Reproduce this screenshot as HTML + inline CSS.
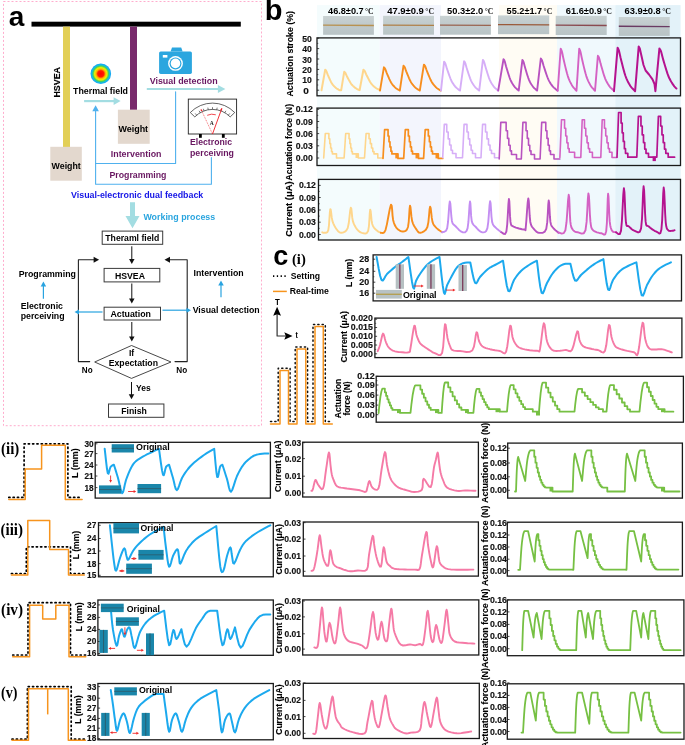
<!DOCTYPE html>
<html><head><meta charset="utf-8"><title>Figure</title>
<style>
html,body{margin:0;padding:0;background:#fff;}
body{width:685px;height:745px;overflow:hidden;font-family:"Liberation Sans",sans-serif;}
svg{display:block;position:absolute;left:0;top:0;will-change:transform;}
</style></head><body>
<svg width="685" height="745" viewBox="0 0 685 745">
<defs><radialGradient id="heat" cx="50%" cy="50%" r="50%"><stop offset="0" stop-color="#ff0000"/><stop offset="0.3" stop-color="#ff1a00"/><stop offset="0.45" stop-color="#ffb000"/><stop offset="0.6" stop-color="#f0f000"/><stop offset="0.75" stop-color="#40d060"/><stop offset="0.88" stop-color="#10b8f0"/><stop offset="1" stop-color="#1aa0f0"/></radialGradient></defs>
<rect x="3.50" y="1.50" width="258.00" height="424.20" fill="none" stroke="#ffaccd" stroke-width="1" stroke-dasharray="2,2"/>
<text x="8.80" y="26.40" font-size="28" font-weight="bold" fill="#000" text-anchor="start" font-family="Liberation Sans">a</text>
<rect x="31.50" y="21.70" width="209.30" height="4.90" fill="#000" stroke="none" stroke-width="1"/>
<rect x="63.00" y="26.60" width="7.00" height="120.40" fill="#e2cf57" stroke="none" stroke-width="1"/>
<rect x="130.00" y="26.60" width="7.00" height="83.30" fill="#792a6c" stroke="none" stroke-width="1"/>
<rect x="50.30" y="146.80" width="31.50" height="33.90" fill="#e3d8ce" stroke="none" stroke-width="1"/>
<text x="51.60" y="168.80" font-size="9" font-weight="bold" fill="#000" text-anchor="start" font-family="Liberation Sans" textLength="29.20" lengthAdjust="spacingAndGlyphs">Weight</text>
<rect x="117.90" y="109.70" width="31.80" height="34.10" fill="#e3d8ce" stroke="none" stroke-width="1"/>
<text x="118.50" y="132.40" font-size="9" font-weight="bold" fill="#000" text-anchor="start" font-family="Liberation Sans" textLength="29.60" lengthAdjust="spacingAndGlyphs">Weight</text>
<text transform="translate(59.60,82.30) rotate(-90)" x="0" y="0" font-size="9" font-weight="bold" fill="#000" stroke="#000" stroke-width="0.12" text-anchor="middle" font-family="Liberation Sans" textLength="30.60" lengthAdjust="spacingAndGlyphs">HSVEA</text>
<circle cx="100.8" cy="73.8" r="10.3" fill="url(#heat)"/>
<text x="73.00" y="93.70" font-size="9" font-weight="bold" fill="#000" text-anchor="start" font-family="Liberation Sans" textLength="55.00" lengthAdjust="spacingAndGlyphs">Thermal field</text>
<line x1="84.10" y1="101.10" x2="115.00" y2="101.10" stroke="#a3dde2" stroke-width="2.2"/>
<polygon points="120.60,101.10 113.60,104.95 113.60,97.25" fill="#a3dde2"/>
<path d="M170.6,51.6 L172,47.4 L181.2,47.4 L182.6,51.6 Z" fill="#2ba6df"/>
<rect x="159.1" y="51.4" width="32.8" height="22.5" rx="1.6" fill="#2ba6df"/>
<rect x="162.8" y="55" width="4.6" height="2.6" fill="#fff"/>
<circle cx="175.5" cy="63.4" r="7.4" fill="#fff"/>
<circle cx="175.5" cy="63.4" r="6.0" fill="#2ba6df"/>
<circle cx="175.5" cy="63.4" r="4.8" fill="#fff"/>
<text x="149.70" y="84.40" font-size="9" font-weight="bold" fill="#681660" text-anchor="start" font-family="Liberation Sans" textLength="68.00" lengthAdjust="spacingAndGlyphs">Visual detection</text>
<line x1="146.80" y1="89.00" x2="219.40" y2="89.00" stroke="#a3dde2" stroke-width="2.2"/>
<polygon points="225.40,89.00 217.90,93.12 217.90,84.88" fill="#a3dde2"/>
<polyline points="175.60,91.70 175.60,163.50 95.60,163.50" fill="none" stroke="#4fb1ee" stroke-width="1.1" stroke-linejoin="round" stroke-linecap="round"/>
<polyline points="211.40,157.60 211.40,184.20 95.60,184.20 95.60,110.00" fill="none" stroke="#4fb1ee" stroke-width="1.1" stroke-linejoin="round" stroke-linecap="round"/>
<polygon points="95.60,105.20 98.90,111.20 92.30,111.20" fill="#4fb1ee"/>
<rect x="188.30" y="99.10" width="48.30" height="34.90" fill="#fff" stroke="#222" stroke-width="0.9"/>
<path d="M190.27,112.54 A30.9,30.9 0 0 1 234.73,112.54 L230.20,116.91 A24.6,24.6 0 0 0 194.80,116.91 Z" fill="#fff" stroke="#222" stroke-width="0.7"/>
<line x1="196.69" y1="115.16" x2="195.27" y2="113.47" stroke="#222" stroke-width="0.6"/>
<line x1="200.20" y1="112.70" x2="199.10" y2="110.79" stroke="#222" stroke-width="0.6"/>
<line x1="204.09" y1="110.88" x2="203.33" y2="108.82" stroke="#222" stroke-width="0.6"/>
<line x1="208.23" y1="109.77" x2="207.85" y2="107.61" stroke="#222" stroke-width="0.6"/>
<line x1="212.50" y1="109.40" x2="212.50" y2="107.20" stroke="#222" stroke-width="0.6"/>
<line x1="216.77" y1="109.77" x2="217.15" y2="107.61" stroke="#222" stroke-width="0.6"/>
<line x1="220.91" y1="110.88" x2="221.67" y2="108.82" stroke="#222" stroke-width="0.6"/>
<line x1="224.80" y1="112.70" x2="225.90" y2="110.79" stroke="#222" stroke-width="0.6"/>
<line x1="228.31" y1="115.16" x2="229.73" y2="113.47" stroke="#222" stroke-width="0.6"/>
<line x1="212.50" y1="134.00" x2="200.88" y2="109.08" stroke="#ee1c24" stroke-width="0.6" stroke-dasharray="1,0.8"/>
<line x1="212.50" y1="134.00" x2="221.91" y2="108.16" stroke="#ee1c24" stroke-width="0.9"/>
<polygon points="200.88,109.08 202.72,110.42 200.73,111.35" fill="#ee1c24"/>
<polygon points="221.91,108.16 222.26,110.41 220.19,109.66" fill="#ee1c24"/>
<path d="M207.2,115.3 Q211.5,113.3 215.8,114.8" fill="none" stroke="#ee1c24" stroke-width="0.8"/>
<text x="211.80" y="124.60" font-size="5.5" font-weight="bold" fill="#222" text-anchor="middle" font-family="Liberation Serif">A</text>
<rect x="199.00" y="134.00" width="2.80" height="3.80" fill="#000" stroke="none" stroke-width="1"/>
<rect x="221.90" y="134.00" width="2.80" height="3.80" fill="#000" stroke="none" stroke-width="1"/>
<text x="190.00" y="145.20" font-size="9" font-weight="bold" fill="#681660" text-anchor="start" font-family="Liberation Sans" textLength="42.00" lengthAdjust="spacingAndGlyphs">Electronic</text>
<text x="190.00" y="155.60" font-size="9" font-weight="bold" fill="#681660" text-anchor="start" font-family="Liberation Sans" textLength="44.00" lengthAdjust="spacingAndGlyphs">perceiving</text>
<text x="110.80" y="157.40" font-size="9" font-weight="bold" fill="#681660" text-anchor="start" font-family="Liberation Sans" textLength="50.70" lengthAdjust="spacingAndGlyphs">Intervention</text>
<text x="109.40" y="178.40" font-size="9" font-weight="bold" fill="#681660" text-anchor="start" font-family="Liberation Sans" textLength="57.10" lengthAdjust="spacingAndGlyphs">Programming</text>
<text x="71.00" y="198.40" font-size="9" font-weight="bold" fill="#1515e6" text-anchor="start" font-family="Liberation Sans" textLength="132.30" lengthAdjust="spacingAndGlyphs">Visual-electronic dual feedback</text>
<polygon points="130,202.3 135,202.3 135,216 139.5,216 132.5,228.3 125.5,216 130,216" fill="#a3dde2"/>
<text x="143.40" y="219.90" font-size="9" font-weight="bold" fill="#2aa5df" text-anchor="start" font-family="Liberation Sans" textLength="71.80" lengthAdjust="spacingAndGlyphs">Working process</text>
<rect x="102.20" y="231.10" width="60.50" height="13.20" fill="#fff" stroke="#3a3a3a" stroke-width="1"/>
<text x="105.30" y="240.50" font-size="8.6" font-weight="bold" fill="#000" text-anchor="start" font-family="Liberation Sans" textLength="53.90" lengthAdjust="spacingAndGlyphs">Theraml field</text>
<rect x="104.10" y="268.40" width="55.70" height="13.50" fill="#fff" stroke="#3a3a3a" stroke-width="1"/>
<text x="114.90" y="279.00" font-size="8.6" font-weight="bold" fill="#000" text-anchor="start" font-family="Liberation Sans" textLength="30.10" lengthAdjust="spacingAndGlyphs">HSVEA</text>
<rect x="104.10" y="307.20" width="56.40" height="12.80" fill="#fff" stroke="#3a3a3a" stroke-width="1"/>
<text x="110.40" y="316.60" font-size="8.6" font-weight="bold" fill="#000" text-anchor="start" font-family="Liberation Sans" textLength="40.60" lengthAdjust="spacingAndGlyphs">Actuation</text>
<rect x="108.50" y="404.00" width="55.40" height="13.30" fill="#fff" stroke="#3a3a3a" stroke-width="1"/>
<text x="121.30" y="413.80" font-size="8.6" font-weight="bold" fill="#000" text-anchor="start" font-family="Liberation Sans" textLength="25.60" lengthAdjust="spacingAndGlyphs">Finish</text>
<line x1="131.80" y1="246.30" x2="131.80" y2="260.10" stroke="#111" stroke-width="1"/>
<polygon points="131.80,264.10 129.05,259.10 134.55,259.10" fill="#111"/>
<line x1="131.80" y1="283.50" x2="131.80" y2="299.50" stroke="#111" stroke-width="1"/>
<polygon points="131.80,303.50 129.05,298.50 134.55,298.50" fill="#111"/>
<line x1="131.80" y1="322.00" x2="131.80" y2="337.50" stroke="#111" stroke-width="1"/>
<polygon points="131.80,341.50 129.05,336.50 134.55,336.50" fill="#111"/>
<line x1="131.50" y1="382.00" x2="131.50" y2="395.30" stroke="#111" stroke-width="1"/>
<polygon points="131.50,399.30 128.75,394.30 134.25,394.30" fill="#111"/>
<polygon points="131.5,345.5 171,362 131.5,378.4 94.7,362" fill="#fff" stroke="#333" stroke-width="0.9"/>
<text x="131.50" y="356.40" font-size="8.6" font-weight="bold" fill="#000" text-anchor="middle" font-family="Liberation Sans">If</text>
<text x="108.70" y="366.20" font-size="8.6" font-weight="bold" fill="#000" text-anchor="start" font-family="Liberation Sans" textLength="49.30" lengthAdjust="spacingAndGlyphs">Expectation</text>
<polyline points="89.70,361.60 78.40,361.60 78.40,259.80 94.00,259.80" fill="none" stroke="#222" stroke-width="1.1" stroke-linejoin="round" stroke-linecap="round"/>
<polygon points="99.10,259.80 93.60,262.82 93.60,256.78" fill="#111"/>
<polyline points="175.00,361.60 187.20,361.60 187.20,259.80 169.50,259.80" fill="none" stroke="#222" stroke-width="1.1" stroke-linejoin="round" stroke-linecap="round"/>
<polygon points="164.50,259.80 170.00,256.78 170.00,262.82" fill="#111"/>
<text x="81.80" y="372.60" font-size="8.6" font-weight="bold" fill="#000" text-anchor="start" font-family="Liberation Sans" textLength="10.80" lengthAdjust="spacingAndGlyphs">No</text>
<text x="176.30" y="372.60" font-size="8.6" font-weight="bold" fill="#000" text-anchor="start" font-family="Liberation Sans" textLength="10.90" lengthAdjust="spacingAndGlyphs">No</text>
<text x="136.00" y="390.70" font-size="8.6" font-weight="bold" fill="#000" text-anchor="start" font-family="Liberation Sans" textLength="14.60" lengthAdjust="spacingAndGlyphs">Yes</text>
<text x="18.70" y="277.20" font-size="8.8" font-weight="bold" fill="#000" text-anchor="start" font-family="Liberation Sans" textLength="57.20" lengthAdjust="spacingAndGlyphs">Programming</text>
<text x="193.50" y="275.70" font-size="8.8" font-weight="bold" fill="#000" text-anchor="start" font-family="Liberation Sans" textLength="50.20" lengthAdjust="spacingAndGlyphs">Intervention</text>
<text x="20.70" y="308.60" font-size="8.8" font-weight="bold" fill="#000" text-anchor="start" font-family="Liberation Sans" textLength="42.30" lengthAdjust="spacingAndGlyphs">Electronic</text>
<text x="20.70" y="318.80" font-size="8.8" font-weight="bold" fill="#000" text-anchor="start" font-family="Liberation Sans" textLength="43.90" lengthAdjust="spacingAndGlyphs">perceiving</text>
<text x="192.70" y="312.50" font-size="8.8" font-weight="bold" fill="#000" text-anchor="start" font-family="Liberation Sans" textLength="67.00" lengthAdjust="spacingAndGlyphs">Visual detection</text>
<line x1="102.50" y1="312.00" x2="78.10" y2="312.00" stroke="#29a3e0" stroke-width="1.2"/>
<polygon points="74.50,312.00 79.00,309.52 79.00,314.48" fill="#29a3e0"/>
<line x1="162.50" y1="310.20" x2="187.40" y2="310.20" stroke="#29a3e0" stroke-width="1.2"/>
<polygon points="191.00,310.20 186.50,312.68 186.50,307.72" fill="#29a3e0"/>
<line x1="43.40" y1="298.70" x2="43.40" y2="285.60" stroke="#29a3e0" stroke-width="1.2"/>
<polygon points="43.40,281.60 46.15,286.60 40.65,286.60" fill="#29a3e0"/>
<line x1="221.00" y1="297.30" x2="221.00" y2="284.50" stroke="#29a3e0" stroke-width="1.2"/>
<polygon points="221.00,280.50 223.75,285.50 218.25,285.50" fill="#29a3e0"/>
<text x="264.80" y="20.20" font-size="29" font-weight="bold" fill="#000" text-anchor="start" font-family="Liberation Sans">b</text>
<rect x="317.00" y="5.10" width="62.60" height="235.00" fill="#f4fcfd" stroke="none" stroke-width="1"/>
<rect x="379.60" y="5.10" width="61.40" height="235.00" fill="#f3f5fd" stroke="none" stroke-width="1"/>
<rect x="441.00" y="5.10" width="58.00" height="235.00" fill="#ffffff" stroke="none" stroke-width="1"/>
<rect x="499.00" y="5.10" width="58.00" height="235.00" fill="#fffcf4" stroke="none" stroke-width="1"/>
<rect x="557.00" y="5.10" width="58.30" height="235.00" fill="#f0f9fd" stroke="none" stroke-width="1"/>
<rect x="615.30" y="5.10" width="65.30" height="235.00" fill="#e3f2f9" stroke="none" stroke-width="1"/>
<defs><linearGradient id="ph" x1="0" y1="0" x2="0" y2="1"><stop offset="0" stop-color="#c9d2d3"/><stop offset="0.5" stop-color="#bfc9cb"/><stop offset="1" stop-color="#b9c4c6"/></linearGradient></defs>
<rect x="323.10" y="16.00" width="50.80" height="18.80" fill="url(#ph)" stroke="none" stroke-width="1"/>
<line x1="323.10" y1="25.20" x2="373.90" y2="25.50" stroke="#b89250" stroke-width="1.3"/>
<rect x="383.10" y="15.80" width="50.90" height="18.90" fill="url(#ph)" stroke="none" stroke-width="1"/>
<line x1="383.10" y1="25.05" x2="434.00" y2="25.35" stroke="#b08048" stroke-width="1.3"/>
<rect x="440.00" y="15.80" width="50.90" height="18.90" fill="url(#ph)" stroke="none" stroke-width="1"/>
<line x1="440.00" y1="25.05" x2="490.90" y2="25.35" stroke="#9a6450" stroke-width="1.3"/>
<rect x="498.00" y="15.40" width="51.20" height="18.80" fill="url(#ph)" stroke="none" stroke-width="1"/>
<line x1="498.00" y1="24.60" x2="549.20" y2="24.90" stroke="#9a5a3a" stroke-width="1.3"/>
<rect x="555.70" y="15.80" width="51.00" height="19.20" fill="url(#ph)" stroke="none" stroke-width="1"/>
<line x1="555.70" y1="25.20" x2="606.70" y2="25.50" stroke="#8a4a50" stroke-width="1.3"/>
<rect x="618.80" y="17.00" width="50.90" height="18.90" fill="url(#ph)" stroke="none" stroke-width="1"/>
<line x1="618.80" y1="26.25" x2="669.70" y2="26.55" stroke="#6a3a62" stroke-width="1.3"/>
<text x="328.10" y="13.50" font-size="8.3" font-weight="bold" fill="#000" text-anchor="start" font-family="Liberation Sans" textLength="35.50" lengthAdjust="spacingAndGlyphs">46.8±0.7</text>
<text x="365.00" y="13.50" font-size="8.8" font-weight="bold" fill="#111" text-anchor="start" font-family="Liberation Serif" textLength="8.60" lengthAdjust="spacingAndGlyphs">°C</text>
<text x="387.20" y="13.50" font-size="8.3" font-weight="bold" fill="#000" text-anchor="start" font-family="Liberation Sans" textLength="36.70" lengthAdjust="spacingAndGlyphs">47.9±0.9</text>
<text x="425.30" y="13.50" font-size="8.8" font-weight="bold" fill="#111" text-anchor="start" font-family="Liberation Serif" textLength="8.70" lengthAdjust="spacingAndGlyphs">°C</text>
<text x="447.00" y="13.50" font-size="8.3" font-weight="bold" fill="#000" text-anchor="start" font-family="Liberation Sans" textLength="36.30" lengthAdjust="spacingAndGlyphs">50.3±2.0</text>
<text x="484.70" y="13.50" font-size="8.8" font-weight="bold" fill="#111" text-anchor="start" font-family="Liberation Serif" textLength="8.60" lengthAdjust="spacingAndGlyphs">°C</text>
<text x="506.60" y="13.50" font-size="8.3" font-weight="bold" fill="#000" text-anchor="start" font-family="Liberation Sans" textLength="35.60" lengthAdjust="spacingAndGlyphs">55.2±1.7</text>
<text x="543.60" y="13.50" font-size="8.8" font-weight="bold" fill="#111" text-anchor="start" font-family="Liberation Serif" textLength="8.70" lengthAdjust="spacingAndGlyphs">°C</text>
<text x="565.80" y="13.50" font-size="8.3" font-weight="bold" fill="#000" text-anchor="start" font-family="Liberation Sans" textLength="36.00" lengthAdjust="spacingAndGlyphs">61.6±0.9</text>
<text x="603.20" y="13.50" font-size="8.8" font-weight="bold" fill="#111" text-anchor="start" font-family="Liberation Serif" textLength="8.80" lengthAdjust="spacingAndGlyphs">°C</text>
<text x="624.50" y="13.50" font-size="8.3" font-weight="bold" fill="#000" text-anchor="start" font-family="Liberation Sans" textLength="36.30" lengthAdjust="spacingAndGlyphs">63.9±0.8</text>
<text x="662.20" y="13.50" font-size="8.8" font-weight="bold" fill="#111" text-anchor="start" font-family="Liberation Serif" textLength="8.80" lengthAdjust="spacingAndGlyphs">°C</text>
<rect x="317.00" y="37.90" width="363.50" height="57.90" fill="none" stroke="#1a1a1a" stroke-width="1.3"/>
<line x1="317.00" y1="38.20" x2="319.20" y2="38.20" stroke="#1a1a1a" stroke-width="0.8"/>
<line x1="317.00" y1="48.60" x2="319.20" y2="48.60" stroke="#1a1a1a" stroke-width="0.8"/>
<line x1="317.00" y1="59.00" x2="319.20" y2="59.00" stroke="#1a1a1a" stroke-width="0.8"/>
<line x1="317.00" y1="69.40" x2="319.20" y2="69.40" stroke="#1a1a1a" stroke-width="0.8"/>
<line x1="317.00" y1="79.80" x2="319.20" y2="79.80" stroke="#1a1a1a" stroke-width="0.8"/>
<line x1="317.00" y1="90.20" x2="319.20" y2="90.20" stroke="#1a1a1a" stroke-width="0.8"/>
<line x1="317.00" y1="43.40" x2="318.30" y2="43.40" stroke="#1a1a1a" stroke-width="0.6"/>
<line x1="317.00" y1="53.80" x2="318.30" y2="53.80" stroke="#1a1a1a" stroke-width="0.6"/>
<line x1="317.00" y1="64.20" x2="318.30" y2="64.20" stroke="#1a1a1a" stroke-width="0.6"/>
<line x1="317.00" y1="74.60" x2="318.30" y2="74.60" stroke="#1a1a1a" stroke-width="0.6"/>
<line x1="317.00" y1="85.00" x2="318.30" y2="85.00" stroke="#1a1a1a" stroke-width="0.6"/>
<text x="302.30" y="41.75" font-size="9" font-weight="bold" fill="#111" stroke="#111" stroke-width="0.15" text-anchor="start" font-family="Liberation Sans" textLength="9.60" lengthAdjust="spacingAndGlyphs">50</text>
<text x="302.30" y="52.00" font-size="9" font-weight="bold" fill="#111" stroke="#111" stroke-width="0.15" text-anchor="start" font-family="Liberation Sans" textLength="9.60" lengthAdjust="spacingAndGlyphs">40</text>
<text x="302.30" y="62.60" font-size="9" font-weight="bold" fill="#111" stroke="#111" stroke-width="0.15" text-anchor="start" font-family="Liberation Sans" textLength="9.60" lengthAdjust="spacingAndGlyphs">30</text>
<text x="302.30" y="72.90" font-size="9" font-weight="bold" fill="#111" stroke="#111" stroke-width="0.15" text-anchor="start" font-family="Liberation Sans" textLength="9.60" lengthAdjust="spacingAndGlyphs">20</text>
<text x="302.30" y="83.30" font-size="9" font-weight="bold" fill="#111" stroke="#111" stroke-width="0.15" text-anchor="start" font-family="Liberation Sans" textLength="9.60" lengthAdjust="spacingAndGlyphs">10</text>
<text x="303.20" y="93.65" font-size="9" font-weight="bold" fill="#111" stroke="#111" stroke-width="0.15" text-anchor="start" font-family="Liberation Sans" textLength="5.60" lengthAdjust="spacingAndGlyphs">0</text>
<text transform="translate(293.00,53.80) rotate(-90)" x="0" y="0" font-size="9" font-weight="bold" fill="#000" stroke="#000" stroke-width="0.12" text-anchor="middle" font-family="Liberation Sans" textLength="85.40" lengthAdjust="spacingAndGlyphs">Actuation stroke (%)</text>
<rect x="317.00" y="108.10" width="363.50" height="57.40" fill="none" stroke="#1a1a1a" stroke-width="1.3"/>
<line x1="317.00" y1="109.30" x2="319.20" y2="109.30" stroke="#1a1a1a" stroke-width="0.8"/>
<line x1="317.00" y1="121.50" x2="319.20" y2="121.50" stroke="#1a1a1a" stroke-width="0.8"/>
<line x1="317.00" y1="133.60" x2="319.20" y2="133.60" stroke="#1a1a1a" stroke-width="0.8"/>
<line x1="317.00" y1="145.80" x2="319.20" y2="145.80" stroke="#1a1a1a" stroke-width="0.8"/>
<line x1="317.00" y1="158.00" x2="319.20" y2="158.00" stroke="#1a1a1a" stroke-width="0.8"/>
<line x1="317.00" y1="115.40" x2="318.30" y2="115.40" stroke="#1a1a1a" stroke-width="0.6"/>
<line x1="317.00" y1="127.55" x2="318.30" y2="127.55" stroke="#1a1a1a" stroke-width="0.6"/>
<line x1="317.00" y1="139.70" x2="318.30" y2="139.70" stroke="#1a1a1a" stroke-width="0.6"/>
<line x1="317.00" y1="151.90" x2="318.30" y2="151.90" stroke="#1a1a1a" stroke-width="0.6"/>
<text x="295.80" y="112.40" font-size="8.6" font-weight="bold" fill="#111" stroke="#111" stroke-width="0.15" text-anchor="start" font-family="Liberation Sans" textLength="17.00" lengthAdjust="spacingAndGlyphs">0.12</text>
<text x="295.80" y="124.60" font-size="8.6" font-weight="bold" fill="#111" stroke="#111" stroke-width="0.15" text-anchor="start" font-family="Liberation Sans" textLength="17.00" lengthAdjust="spacingAndGlyphs">0.09</text>
<text x="295.80" y="136.80" font-size="8.6" font-weight="bold" fill="#111" stroke="#111" stroke-width="0.15" text-anchor="start" font-family="Liberation Sans" textLength="17.00" lengthAdjust="spacingAndGlyphs">0.06</text>
<text x="295.80" y="149.10" font-size="8.6" font-weight="bold" fill="#111" stroke="#111" stroke-width="0.15" text-anchor="start" font-family="Liberation Sans" textLength="17.00" lengthAdjust="spacingAndGlyphs">0.03</text>
<text x="295.80" y="161.30" font-size="8.6" font-weight="bold" fill="#111" stroke="#111" stroke-width="0.15" text-anchor="start" font-family="Liberation Sans" textLength="17.00" lengthAdjust="spacingAndGlyphs">0.00</text>
<text transform="translate(291.90,142.20) rotate(-90)" x="0" y="0" font-size="9" font-weight="bold" fill="#000" stroke="#000" stroke-width="0.12" text-anchor="middle" font-family="Liberation Sans" textLength="76.40" lengthAdjust="spacingAndGlyphs">Acutation force (N)</text>
<rect x="318.50" y="179.40" width="362.00" height="60.60" fill="none" stroke="#1a1a1a" stroke-width="1.3"/>
<line x1="318.50" y1="185.40" x2="320.70" y2="185.40" stroke="#1a1a1a" stroke-width="0.8"/>
<line x1="318.50" y1="197.50" x2="320.70" y2="197.50" stroke="#1a1a1a" stroke-width="0.8"/>
<line x1="318.50" y1="210.00" x2="320.70" y2="210.00" stroke="#1a1a1a" stroke-width="0.8"/>
<line x1="318.50" y1="222.20" x2="320.70" y2="222.20" stroke="#1a1a1a" stroke-width="0.8"/>
<line x1="318.50" y1="234.50" x2="320.70" y2="234.50" stroke="#1a1a1a" stroke-width="0.8"/>
<line x1="318.50" y1="191.45" x2="319.80" y2="191.45" stroke="#1a1a1a" stroke-width="0.6"/>
<line x1="318.50" y1="203.75" x2="319.80" y2="203.75" stroke="#1a1a1a" stroke-width="0.6"/>
<line x1="318.50" y1="216.10" x2="319.80" y2="216.10" stroke="#1a1a1a" stroke-width="0.6"/>
<line x1="318.50" y1="228.35" x2="319.80" y2="228.35" stroke="#1a1a1a" stroke-width="0.6"/>
<text x="299.00" y="188.40" font-size="8.6" font-weight="bold" fill="#111" stroke="#111" stroke-width="0.15" text-anchor="start" font-family="Liberation Sans" textLength="16.90" lengthAdjust="spacingAndGlyphs">0.12</text>
<text x="299.00" y="200.50" font-size="8.6" font-weight="bold" fill="#111" stroke="#111" stroke-width="0.15" text-anchor="start" font-family="Liberation Sans" textLength="16.90" lengthAdjust="spacingAndGlyphs">0.09</text>
<text x="299.00" y="213.00" font-size="8.6" font-weight="bold" fill="#111" stroke="#111" stroke-width="0.15" text-anchor="start" font-family="Liberation Sans" textLength="16.90" lengthAdjust="spacingAndGlyphs">0.06</text>
<text x="299.00" y="225.20" font-size="8.6" font-weight="bold" fill="#111" stroke="#111" stroke-width="0.15" text-anchor="start" font-family="Liberation Sans" textLength="16.90" lengthAdjust="spacingAndGlyphs">0.03</text>
<text x="299.00" y="237.50" font-size="8.6" font-weight="bold" fill="#111" stroke="#111" stroke-width="0.15" text-anchor="start" font-family="Liberation Sans" textLength="16.90" lengthAdjust="spacingAndGlyphs">0.00</text>
<text transform="translate(291.90,209.05) rotate(-90)" x="0" y="0" font-size="9" font-weight="bold" fill="#000" stroke="#000" stroke-width="0.12" text-anchor="middle" font-family="Liberation Sans" textLength="55.30" lengthAdjust="spacingAndGlyphs">Current (μA)</text>
<polyline points="321.50,90.20 325.20,69.70 325.35,69.85 325.55,70.03 325.79,70.29 326.06,70.64 326.34,71.14 326.62,71.76 326.90,72.49 327.21,73.34 327.59,74.32 328.06,75.44 328.66,76.80 329.36,78.40 330.12,80.07 330.89,81.67 331.64,83.03 332.37,84.14 333.11,85.10 333.85,85.94 334.56,86.68 335.21,87.33 335.80,87.87 336.35,88.28 336.86,88.61 337.34,88.90 337.78,89.18 338.21,89.45 338.61,89.69 338.98,89.90 339.28,90.07 339.50,90.20 341.20,90.20 344.20,71.80 344.36,71.93 344.57,72.10 344.84,72.33 345.13,72.64 345.43,73.09 345.73,73.65 346.03,74.31 346.37,75.07 346.77,75.95 347.28,76.95 347.92,78.17 348.68,79.60 349.49,81.11 350.33,82.54 351.13,83.76 351.92,84.76 352.72,85.62 353.52,86.38 354.28,87.04 354.98,87.62 355.62,88.11 356.21,88.48 356.76,88.78 357.27,89.03 357.75,89.28 358.21,89.53 358.65,89.75 359.04,89.93 359.36,90.09 359.60,90.20 359.60,90.20 363.40,69.70 363.57,69.85 363.80,70.03 364.09,70.29 364.40,70.64 364.73,71.14 365.05,71.76 365.37,72.49 365.74,73.34 366.17,74.32 366.72,75.44 367.41,76.80 368.22,78.40 369.11,80.07 370.01,81.67 370.87,83.03 371.72,84.14 372.59,85.10 373.44,85.94 374.26,86.68 375.02,87.33 375.71,87.87 376.35,88.28 376.94,88.61 377.49,88.90 378.01,89.18 378.50,89.45 378.97,89.69 379.39,89.90 379.75,90.07 380.00,90.20" fill="none" stroke="#fed68c" stroke-width="2.0" stroke-linejoin="round" stroke-linecap="round"/>
<polyline points="380.00,90.60 383.90,67.30 384.06,67.47 384.29,67.68 384.56,67.97 384.86,68.37 385.17,68.93 385.48,69.64 385.79,70.47 386.14,71.44 386.56,72.55 387.08,73.82 387.74,75.37 388.52,77.18 389.37,79.09 390.23,80.90 391.06,82.44 391.87,83.71 392.70,84.80 393.52,85.76 394.31,86.60 395.03,87.34 395.69,87.95 396.30,88.42 396.87,88.80 397.40,89.12 397.89,89.44 398.37,89.75 398.82,90.02 399.22,90.26 399.56,90.46 399.80,90.60 399.80,90.60 403.50,65.70 403.67,65.88 403.90,66.10 404.17,66.41 404.48,66.84 404.80,67.44 405.12,68.20 405.44,69.09 405.79,70.13 406.22,71.32 406.76,72.67 407.44,74.32 408.24,76.26 409.10,78.30 409.99,80.23 410.83,81.88 411.67,83.23 412.52,84.41 413.36,85.43 414.17,86.32 414.91,87.11 415.59,87.77 416.21,88.27 416.80,88.67 417.34,89.02 417.84,89.36 418.33,89.69 418.79,89.98 419.21,90.24 419.55,90.45 419.80,90.60 419.80,90.60 423.90,64.60 424.07,64.79 424.31,65.02 424.59,65.34 424.91,65.79 425.24,66.42 425.57,67.21 425.90,68.14 426.26,69.22 426.71,70.46 427.26,71.88 427.96,73.60 428.78,75.63 429.68,77.75 430.59,79.78 431.46,81.50 432.32,82.91 433.20,84.13 434.06,85.20 434.90,86.13 435.66,86.96 436.36,87.64 437.00,88.17 437.60,88.59 438.16,88.95 438.68,89.30 439.18,89.65 439.66,89.96 440.09,90.22 440.44,90.44 440.70,90.60" fill="none" stroke="#f78e1e" stroke-width="1.9" stroke-linejoin="round" stroke-linecap="round"/>
<polyline points="441.00,90.60 444.10,61.60 444.26,61.81 444.49,62.07 444.76,62.43 445.06,62.93 445.37,63.63 445.68,64.51 445.99,65.55 446.34,66.76 446.76,68.14 447.28,69.72 447.94,71.64 448.72,73.90 449.57,76.27 450.43,78.53 451.26,80.45 452.07,82.02 452.90,83.39 453.72,84.58 454.51,85.62 455.23,86.54 455.89,87.30 456.50,87.89 457.07,88.36 457.60,88.76 458.09,89.15 458.57,89.54 459.02,89.88 459.42,90.18 459.76,90.42 460.00,90.60 460.00,90.60 464.10,61.20 464.25,61.41 464.47,61.68 464.72,62.04 465.01,62.55 465.31,63.26 465.60,64.15 465.90,65.21 466.22,66.43 466.62,67.83 467.12,69.43 467.75,71.38 468.49,73.67 469.29,76.07 470.11,78.36 470.90,80.31 471.67,81.90 472.46,83.29 473.24,84.49 473.98,85.55 474.67,86.48 475.30,87.26 475.88,87.85 476.42,88.33 476.92,88.73 477.39,89.13 477.84,89.52 478.27,89.87 478.65,90.17 478.97,90.42 479.20,90.60 479.20,90.60 482.90,59.90 483.06,60.12 483.27,60.40 483.53,60.78 483.82,61.31 484.12,62.05 484.42,62.98 484.72,64.08 485.05,65.36 485.46,66.82 485.96,68.50 486.60,70.53 487.35,72.92 488.16,75.43 488.99,77.82 489.78,79.86 490.57,81.52 491.37,82.96 492.16,84.22 492.91,85.33 493.61,86.30 494.24,87.11 494.83,87.73 495.38,88.23 495.89,88.65 496.36,89.06 496.82,89.48 497.25,89.84 497.64,90.16 497.96,90.41 498.20,90.60" fill="none" stroke="#d6aef7" stroke-width="1.9" stroke-linejoin="round" stroke-linecap="round"/>
<polyline points="498.20,90.60 503.50,59.10 503.66,59.33 503.87,59.61 504.13,60.00 504.41,60.55 504.72,61.31 505.01,62.27 505.31,63.39 505.64,64.70 506.04,66.20 506.54,67.92 507.17,70.01 507.92,72.46 508.73,75.03 509.55,77.49 510.34,79.57 511.12,81.28 511.91,82.77 512.70,84.06 513.45,85.19 514.14,86.19 514.77,87.02 515.35,87.66 515.90,88.16 516.40,88.60 516.88,89.02 517.33,89.45 517.76,89.82 518.15,90.14 518.47,90.41 518.70,90.60 518.70,90.60 522.40,59.90 522.55,60.12 522.76,60.40 523.01,60.78 523.28,61.31 523.58,62.05 523.86,62.98 524.15,64.08 524.47,65.36 524.86,66.82 525.34,68.50 525.95,70.53 526.67,72.92 527.45,75.43 528.25,77.82 529.01,79.86 529.77,81.52 530.53,82.96 531.29,84.22 532.02,85.33 532.69,86.30 533.30,87.11 533.86,87.73 534.39,88.23 534.88,88.65 535.34,89.06 535.77,89.48 536.19,89.84 536.56,90.16 536.87,90.41 537.10,90.60 537.10,90.60 540.80,58.50 540.97,58.73 541.21,59.02 541.49,59.42 541.80,59.97 542.14,60.75 542.46,61.73 542.79,62.87 543.15,64.21 543.59,65.74 544.14,67.49 544.84,69.62 545.65,72.12 546.54,74.74 547.45,77.24 548.32,79.36 549.17,81.10 550.04,82.62 550.90,83.93 551.73,85.09 552.49,86.11 553.18,86.95 553.82,87.60 554.42,88.12 554.98,88.56 555.50,89.00 555.99,89.42 556.47,89.81 556.89,90.14 557.24,90.40 557.50,90.60" fill="none" stroke="#b852c0" stroke-width="1.9" stroke-linejoin="round" stroke-linecap="round"/>
<polyline points="557.70,90.80 560.70,48.80 560.86,49.11 561.08,49.48 561.35,50.00 561.65,50.73 561.96,51.74 562.27,53.02 562.58,54.52 562.92,56.27 563.34,58.27 563.86,60.56 564.52,63.35 565.29,66.61 566.13,70.05 566.99,73.31 567.81,76.10 568.62,78.37 569.44,80.35 570.26,82.08 571.04,83.59 571.76,84.92 572.41,86.03 573.02,86.88 573.59,87.55 574.11,88.13 574.60,88.70 575.07,89.26 575.52,89.76 575.92,90.19 576.26,90.54 576.50,90.80 576.50,90.80 579.20,48.80 579.36,49.11 579.58,49.48 579.85,50.00 580.15,50.73 580.46,51.74 580.77,53.02 581.08,54.52 581.42,56.27 581.84,58.27 582.36,60.56 583.02,63.35 583.79,66.61 584.63,70.05 585.49,73.31 586.31,76.10 587.12,78.37 587.94,80.35 588.76,82.08 589.54,83.59 590.26,84.92 590.91,86.03 591.52,86.88 592.09,87.55 592.61,88.13 593.10,88.70 593.57,89.26 594.02,89.76 594.42,90.19 594.76,90.54 595.00,90.80 595.00,90.80 597.90,55.70 598.06,55.96 598.29,56.27 598.56,56.70 598.87,57.31 599.19,58.16 599.50,59.23 599.81,60.48 600.17,61.94 600.59,63.62 601.12,65.53 601.79,67.86 602.58,70.59 603.43,73.45 604.31,76.19 605.15,78.51 605.97,80.42 606.81,82.07 607.64,83.51 608.44,84.77 609.17,85.89 609.84,86.81 610.46,87.52 611.03,88.08 611.57,88.57 612.07,89.04 612.55,89.51 613.00,89.93 613.41,90.29 613.75,90.58 614.00,90.80" fill="none" stroke="#d462c4" stroke-width="1.9" stroke-linejoin="round" stroke-linecap="round"/>
<polyline points="614.00,91.20 617.60,47.80 617.78,48.12 618.03,48.50 618.32,49.04 618.65,49.79 619.00,50.84 619.34,52.16 619.68,53.71 620.06,55.51 620.52,57.59 621.10,59.95 621.83,62.83 622.69,66.21 623.62,69.75 624.56,73.13 625.48,76.01 626.37,78.36 627.28,80.41 628.19,82.19 629.05,83.75 629.85,85.12 630.58,86.27 631.25,87.14 631.87,87.84 632.46,88.44 633.00,89.03 633.52,89.61 634.02,90.13 634.46,90.57 634.83,90.93 635.10,91.20 635.10,91.20 638.70,46.40 639.80,48.50 641.50,56.00 643.50,65.00 645.60,70.50 649.00,74.50 652.50,79.30 654.50,84.00 655.40,91.20 659.40,48.40 659.61,48.71 659.89,49.10 660.23,49.62 660.61,50.37 661.01,51.40 661.40,52.70 661.79,54.23 662.23,56.01 662.76,58.05 663.42,60.38 664.26,63.22 665.24,66.55 666.31,70.05 667.40,73.38 668.44,76.22 669.47,78.54 670.52,80.55 671.56,82.31 672.56,83.85 673.47,85.21 674.30,86.33 675.08,87.20 675.80,87.89 676.46,88.48" fill="none" stroke="#b5128f" stroke-width="2.0" stroke-linejoin="round" stroke-linecap="round"/>
<polyline points="323.70,158.00 325.30,133.50 328.00,133.50 328.88,133.50 328.88,138.81 329.76,138.81 329.76,143.66 330.64,143.66 330.64,147.98 331.52,147.98 331.52,151.58 332.40,151.58 332.40,153.90 336.50,153.90 336.50,158.00 344.10,158.00 344.10,158.00 345.70,133.50 348.20,133.50 349.04,133.50 349.04,138.81 349.88,138.81 349.88,143.66 350.72,143.66 350.72,147.98 351.56,147.98 351.56,151.58 352.40,151.58 352.40,153.90 358.30,153.90 358.30,158.00 364.50,158.00 364.50,158.00 366.10,133.50 367.80,133.50 369.04,133.50 369.04,138.81 370.28,138.81 370.28,143.66 371.52,143.66 371.52,147.98 372.76,147.98 372.76,151.58 374.00,151.58 374.00,153.90 377.80,153.90 377.80,158.00 382.80,158.00" fill="none" stroke="#fed68c" stroke-width="1.6" stroke-linejoin="round" stroke-linecap="round" stroke-linejoin="miter" stroke-linecap="butt"/>
<rect x="355.50" y="153.90" width="2.80" height="4.10" fill="#fed68c" stroke="none" stroke-width="1"/>
<polyline points="383.00,158.40 384.60,129.70 387.10,129.70 388.06,129.70 388.06,135.99 389.02,135.99 389.02,141.76 389.98,141.76 389.98,146.88 390.94,146.88 390.94,151.14 391.90,151.14 391.90,153.90 398.00,153.90 398.00,158.40 403.70,158.40 403.70,158.40 405.30,129.70 407.30,129.70 408.34,129.70 408.34,135.99 409.38,135.99 409.38,141.76 410.42,141.76 410.42,146.88 411.46,146.88 411.46,151.14 412.50,151.14 412.50,153.90 418.50,153.90 418.50,158.40 423.60,158.40 423.60,158.40 425.20,129.70 427.30,129.70 428.34,129.70 428.34,135.99 429.38,135.99 429.38,141.76 430.42,141.76 430.42,146.88 431.46,146.88 431.46,151.14 432.50,151.14 432.50,153.90 438.30,153.90 438.30,158.40 442.70,158.40" fill="none" stroke="#f78e1e" stroke-width="1.7" stroke-linejoin="round" stroke-linecap="round" stroke-linejoin="miter" stroke-linecap="butt"/>
<rect x="395.30" y="153.90" width="2.80" height="4.50" fill="#f78e1e" stroke="none" stroke-width="1"/>
<rect x="415.50" y="153.90" width="3.20" height="4.50" fill="#f78e1e" stroke="none" stroke-width="1"/>
<rect x="435.50" y="153.90" width="3.00" height="4.50" fill="#f78e1e" stroke="none" stroke-width="1"/>
<polyline points="442.70,157.70 444.30,124.40 445.30,124.40 446.74,124.40 446.74,131.97 448.18,131.97 448.18,138.90 449.62,138.90 449.62,145.05 451.06,145.05 451.06,150.19 452.50,150.19 452.50,153.50 456.00,153.50 456.00,157.70 462.50,157.70 462.50,157.70 464.10,124.40 465.60,124.40 466.98,124.40 466.98,131.97 468.36,131.97 468.36,138.90 469.74,138.90 469.74,145.05 471.12,145.05 471.12,150.19 472.50,150.19 472.50,153.50 475.50,153.50 475.50,157.70 481.00,157.70 481.00,157.70 482.60,124.40 484.00,124.40 485.50,124.40 485.50,131.97 487.00,131.97 487.00,138.90 488.50,138.90 488.50,145.05 490.00,145.05 490.00,150.19 491.50,150.19 491.50,153.50 494.50,153.50 494.50,157.70 498.40,157.70" fill="none" stroke="#d6aef7" stroke-width="1.6" stroke-linejoin="round" stroke-linecap="round" stroke-linejoin="miter" stroke-linecap="butt"/>
<polyline points="499.20,159.00 500.80,122.40 504.80,122.40 506.14,122.40 506.14,130.75 507.48,130.75 507.48,138.39 508.82,138.39 508.82,145.18 510.16,145.18 510.16,150.84 511.50,150.84 511.50,154.50 516.50,154.50 516.50,159.00 521.30,159.00 521.30,159.00 522.90,122.40 524.80,122.40 526.04,122.40 526.04,130.75 527.28,130.75 527.28,138.39 528.52,138.39 528.52,145.18 529.76,145.18 529.76,150.84 531.00,150.84 531.00,154.50 534.50,154.50 534.50,159.00 540.10,159.00 540.10,159.00 541.70,122.40 544.60,122.40 545.78,122.40 545.78,130.75 546.96,130.75 546.96,138.39 548.14,138.39 548.14,145.18 549.32,145.18 549.32,150.84 550.50,150.84 550.50,154.50 554.00,154.50 554.00,159.00 559.90,159.00" fill="none" stroke="#b852c0" stroke-width="1.6" stroke-linejoin="round" stroke-linecap="round" stroke-linejoin="miter" stroke-linecap="butt"/>
<polyline points="559.90,157.50 561.50,119.80 563.40,119.80 564.56,119.80 564.56,128.25 565.72,128.25 565.72,135.99 566.88,135.99 566.88,142.87 568.04,142.87 568.04,148.60 569.20,148.60 569.20,152.30 574.60,152.30 574.60,157.50 580.80,157.50 580.80,157.50 582.20,119.80 583.20,119.80 584.48,119.80 584.48,128.25 585.76,128.25 585.76,135.99 587.04,135.99 587.04,142.87 588.32,142.87 588.32,148.60 589.60,148.60 589.60,152.30 592.40,152.30 592.40,157.50 600.80,157.50 600.80,157.50 602.20,119.80 603.20,119.80 604.46,119.80 604.46,128.25 605.72,128.25 605.72,135.99 606.98,135.99 606.98,142.87 608.24,142.87 608.24,148.60 609.50,148.60 609.50,152.30 612.00,152.30 612.00,157.50 617.00,157.50" fill="none" stroke="#d462c4" stroke-width="1.6" stroke-linejoin="round" stroke-linecap="round" stroke-linejoin="miter" stroke-linecap="butt"/>
<polyline points="617.00,157.20 618.60,112.50 620.00,112.50 621.10,112.50 621.10,123.11 622.20,123.11 622.20,132.83 623.30,132.83 623.30,141.46 624.40,141.46 624.40,148.65 625.50,148.65 625.50,153.30 627.80,153.30 627.80,157.20 636.80,157.20 636.80,157.20 638.40,116.40 639.70,116.40 640.96,116.40 640.96,126.00 642.22,126.00 642.22,134.78 643.48,134.78 643.48,142.59 644.74,142.59 644.74,149.10 646.00,149.10 646.00,153.30 648.50,153.30 648.50,157.20 656.80,157.20 656.80,157.20 658.40,116.40 659.40,116.40 660.68,116.40 660.68,126.00 661.96,126.00 661.96,134.78 663.24,134.78 663.24,142.59 664.52,142.59 664.52,149.10 665.80,149.10 665.80,153.30 668.20,153.30 668.20,157.20 674.60,157.20" fill="none" stroke="#b5128f" stroke-width="1.7" stroke-linejoin="round" stroke-linecap="round" stroke-linejoin="miter" stroke-linecap="butt"/>
<rect x="652.60" y="156.50" width="3.30" height="4.60" fill="#b5128f" stroke="none" stroke-width="1"/>
<polyline points="322.20,232.20 322.51,232.39 322.94,232.67 323.51,232.87 324.20,232.80 325.13,232.79 326.25,232.80 327.37,232.14 328.30,230.10 328.95,225.37 329.43,218.69 329.84,212.47 330.30,209.10 330.77,209.83 331.22,213.18 331.73,217.43 332.40,220.90 333.27,223.31 334.29,225.51 335.39,227.45 336.50,229.10 337.59,230.54 338.70,231.76 339.88,232.57 341.20,232.80 342.78,232.59 344.55,231.96 346.27,230.58 347.70,228.10 348.74,223.29 349.53,216.72 350.18,210.72 350.80,207.60 351.33,208.67 351.74,212.46 352.18,217.14 352.80,220.90 353.65,223.41 354.66,225.60 355.76,227.49 356.90,229.10 358.08,230.47 359.32,231.57 360.63,232.36 362.00,232.80 363.55,233.22 365.24,233.52 366.83,233.04 368.10,231.10 368.91,226.30 369.41,219.40 369.78,213.00 370.20,209.70 370.66,210.96 371.07,215.13 371.55,220.16 372.20,224.00 373.07,226.18 374.09,227.78 375.20,229.01 376.30,230.10 377.50,231.08 378.81,231.83 379.98,232.39 380.80,232.80" fill="none" stroke="#fed68c" stroke-width="1.9" stroke-linejoin="round" stroke-linecap="round"/>
<polyline points="380.80,232.80 381.63,232.85 382.81,233.04 384.16,232.44 385.50,230.10 386.90,224.37 388.41,216.22 389.85,208.64 391.00,204.60 391.73,205.72 392.17,210.14 392.55,215.62 393.10,219.90 393.83,222.56 394.64,224.74 395.58,226.55 396.70,228.10 398.09,229.47 399.71,230.59 401.37,231.32 402.90,231.50 404.32,231.33 405.71,230.80 406.97,229.50 408.00,227.00 408.72,221.98 409.19,215.06 409.57,208.77 410.00,205.60 410.47,207.01 410.92,211.40 411.43,216.71 412.10,220.90 412.98,223.55 414.03,225.72 415.13,227.53 416.20,229.10 417.15,230.56 418.06,231.82 419.06,232.65 420.30,232.80 421.97,232.36 423.94,231.41 425.86,229.70 427.40,227.00 428.39,222.09 429.04,215.48 429.55,209.53 430.10,206.60 430.68,208.13 431.21,212.59 431.79,217.88 432.50,221.90 433.37,224.14 434.36,225.70 435.44,226.91 436.60,228.10 438.01,229.37 439.61,230.54 441.08,231.51 442.10,232.20" fill="none" stroke="#f78e1e" stroke-width="1.9" stroke-linejoin="round" stroke-linecap="round"/>
<polyline points="442.00,232.20 443.00,231.99 444.44,231.81 445.96,230.80 447.20,228.10 448.04,221.95 448.69,213.33 449.25,205.44 449.80,201.50 450.33,203.45 450.80,209.22 451.30,215.98 451.90,220.90 452.57,223.15 453.28,224.28 454.15,224.98 455.30,226.00 456.88,227.71 458.79,229.67 460.76,231.35 462.50,232.20 463.99,232.43 465.35,232.20 466.56,230.95 467.60,228.10 468.41,221.95 469.01,213.33 469.51,205.44 470.00,201.50 470.42,203.43 470.74,209.16 471.12,215.91 471.70,220.90 472.51,223.38 473.47,224.84 474.58,225.85 475.80,227.00 477.20,228.58 478.76,230.24 480.37,231.57 481.90,232.20 483.38,232.37 484.86,232.16 486.24,230.95 487.40,228.10 488.29,221.84 488.97,213.04 489.54,205.03 490.10,201.10 490.60,203.28 491.01,209.43 491.47,216.61 492.10,221.90 492.95,224.53 493.96,226.04 495.06,227.04 496.20,228.10 497.52,229.37 499.01,230.54 500.36,231.51 501.30,232.20" fill="none" stroke="#c48ef2" stroke-width="1.9" stroke-linejoin="round" stroke-linecap="round"/>
<polyline points="501.30,232.20 502.28,232.82 503.69,233.88 505.19,233.93 506.40,231.50 507.23,224.31 507.87,213.77 508.40,203.98 508.90,199.00 509.33,201.26 509.66,208.12 510.02,216.16 510.50,221.90 510.99,224.40 511.49,225.50 512.26,225.98 513.60,226.60 515.93,227.58 518.99,228.50 522.01,229.20 524.20,229.50 525.21,229.87 525.51,230.22 525.55,229.59 525.80,227.00 526.37,220.46 527.02,211.07 527.69,202.50 528.30,198.40 528.80,200.99 529.22,207.91 529.69,215.95 530.30,221.90 531.07,224.93 531.96,226.74 532.94,227.93 534.00,229.10 535.13,230.45 536.33,231.66 537.64,232.51 539.10,232.80 540.86,232.89 542.87,232.74 544.79,231.60 546.30,228.70 547.25,222.18 547.84,213.01 548.26,204.63 548.70,200.50 549.14,202.72 549.51,209.05 549.90,216.46 550.40,221.90 551.01,224.55 551.69,226.04 552.47,227.01 553.40,228.10 554.65,229.49 556.14,230.84 557.53,231.99 558.50,232.80" fill="none" stroke="#b852c0" stroke-width="1.9" stroke-linejoin="round" stroke-linecap="round"/>
<polyline points="558.50,232.50 559.82,232.86 561.74,233.56 563.77,233.16 565.40,230.20 566.52,222.22 567.38,210.69 568.08,200.07 568.70,194.80 569.20,197.52 569.56,205.38 569.88,214.59 570.30,221.40 570.79,224.88 571.29,227.00 571.91,228.38 572.70,229.60 573.68,230.75 574.81,231.54 576.11,232.00 577.60,232.20 579.48,232.84 581.67,233.66 583.81,233.25 585.50,230.20 586.60,221.93 587.32,209.92 587.86,198.86 588.40,193.40 588.95,196.29 589.42,204.55 589.88,214.23 590.40,221.40 590.88,225.09 591.31,227.36 591.94,228.86 593.00,230.20 594.73,231.47 596.95,232.37 599.24,232.94 601.20,233.20 602.75,233.88 604.09,234.72 605.24,234.31 606.20,231.20 606.90,222.82 607.36,210.65 607.72,199.41 608.10,193.80 608.50,196.56 608.87,204.68 609.25,214.26 609.70,221.40 610.21,225.22 610.76,227.74 611.38,229.44 612.10,230.80 613.06,231.75 614.20,232.09 615.26,232.14 616.00,232.20" fill="none" stroke="#d462c4" stroke-width="1.9" stroke-linejoin="round" stroke-linecap="round"/>
<polyline points="616.00,232.20 616.95,232.91 618.32,234.16 619.78,234.08 621.00,230.80 621.89,221.25 622.64,207.28 623.29,194.42 623.90,188.20 624.44,192.04 624.90,202.34 625.36,214.09 625.90,222.30 626.49,225.40 627.11,226.15 627.84,225.97 628.80,226.30 630.05,227.55 631.53,228.96 633.12,230.16 634.70,230.80 636.36,231.59 638.11,232.46 639.76,231.87 641.10,228.30 642.01,218.77 642.62,204.95 643.10,192.30 643.60,186.30 644.11,190.36 644.58,200.92 645.05,212.94 645.60,221.40 646.14,224.74 646.68,225.71 647.40,225.75 648.50,226.30 650.19,227.77 652.32,229.38 654.51,230.78 656.40,231.60 657.92,232.55 659.25,233.56 660.41,233.09 661.40,229.60 662.17,220.09 662.74,206.25 663.21,193.56 663.70,187.50 664.21,191.42 664.69,201.78 665.17,213.69 665.70,222.30 666.25,226.34 666.83,228.39 667.46,229.37 668.20,230.20 669.13,230.89 670.21,231.03 671.28,230.91 672.20,230.80 672.97,230.72 673.65,230.54 674.21,230.34 674.60,230.20" fill="none" stroke="#b5128f" stroke-width="1.9" stroke-linejoin="round" stroke-linecap="round"/>
<text x="273.20" y="265.20" font-size="27" font-weight="bold" fill="#000" text-anchor="start" font-family="Liberation Sans">c</text>
<text x="292.00" y="264.20" font-size="15.5" font-weight="bold" fill="#000" text-anchor="start" font-family="Liberation Serif" textLength="13.80" lengthAdjust="spacingAndGlyphs">(i)</text>
<line x1="273.00" y1="276.10" x2="287.10" y2="276.10" stroke="#000" stroke-width="1.7" stroke-dasharray="1.3,2.5"/>
<text x="290.80" y="278.90" font-size="8.6" font-weight="bold" fill="#000" text-anchor="start" font-family="Liberation Sans" textLength="29.30" lengthAdjust="spacingAndGlyphs">Setting</text>
<line x1="273.00" y1="291.40" x2="286.80" y2="291.40" stroke="#f7941d" stroke-width="1.5"/>
<text x="289.70" y="293.50" font-size="8.6" font-weight="bold" fill="#000" text-anchor="start" font-family="Liberation Sans" textLength="39.20" lengthAdjust="spacingAndGlyphs">Real-time</text>
<polyline points="277.10,312.00 277.10,336.00 287.00,336.00" fill="none" stroke="#333" stroke-width="1.2" stroke-linejoin="round" stroke-linecap="round"/>
<polygon points="277.1,306.8 281,315.8 277.1,314.3 273.2,315.8" fill="#000"/>
<polygon points="292.5,336 284.3,339.8 285.8,336 284.3,332.2" fill="#000"/>
<text x="275.00" y="304.70" font-size="9.4" font-weight="bold" fill="#000" text-anchor="start" font-family="Liberation Sans" textLength="4.80" lengthAdjust="spacingAndGlyphs">T</text>
<text x="295.50" y="338.20" font-size="9.4" font-weight="bold" fill="#000" text-anchor="start" font-family="Liberation Sans" textLength="2.40" lengthAdjust="spacingAndGlyphs">t</text>
<polyline points="270.50,421.60 278.20,421.60 278.20,368.30 290.10,368.30 290.10,421.60 295.20,421.60 295.20,347.10 307.60,347.10 307.60,421.60 313.00,421.60 313.00,324.60 325.30,324.60 325.30,421.60 332.30,421.60" fill="none" stroke="#111" stroke-width="1.5" stroke-linejoin="round" stroke-linecap="round" stroke-dasharray="1.2,3.1" stroke-linejoin="miter" stroke-linecap="butt"/>
<polyline points="270.50,423.90 280.00,423.90 280.00,370.60 288.50,370.60 288.50,423.90 297.00,423.90 297.00,349.00 305.80,349.00 305.80,423.90 315.00,423.90 315.00,326.60 323.30,326.60 323.30,423.90 332.30,423.90" fill="none" stroke="#f7941d" stroke-width="1.5" stroke-linejoin="round" stroke-linecap="round" stroke-linejoin="miter" stroke-linecap="butt"/>
<rect x="373.10" y="254.90" width="308.40" height="46.00" fill="none" stroke="#1a1a1a" stroke-width="1.3"/>
<line x1="373.10" y1="259.20" x2="375.30" y2="259.20" stroke="#1a1a1a" stroke-width="0.8"/>
<line x1="373.10" y1="271.30" x2="375.30" y2="271.30" stroke="#1a1a1a" stroke-width="0.8"/>
<line x1="373.10" y1="282.20" x2="375.30" y2="282.20" stroke="#1a1a1a" stroke-width="0.8"/>
<line x1="373.10" y1="293.20" x2="375.30" y2="293.20" stroke="#1a1a1a" stroke-width="0.8"/>
<line x1="373.10" y1="265.25" x2="374.40" y2="265.25" stroke="#1a1a1a" stroke-width="0.6"/>
<line x1="373.10" y1="276.75" x2="374.40" y2="276.75" stroke="#1a1a1a" stroke-width="0.6"/>
<line x1="373.10" y1="287.70" x2="374.40" y2="287.70" stroke="#1a1a1a" stroke-width="0.6"/>
<text x="359.30" y="261.65" font-size="8.2" font-weight="bold" fill="#111" stroke="#111" stroke-width="0.15" text-anchor="start" font-family="Liberation Sans" textLength="9.90" lengthAdjust="spacingAndGlyphs">28</text>
<text x="359.30" y="273.60" font-size="8.2" font-weight="bold" fill="#111" stroke="#111" stroke-width="0.15" text-anchor="start" font-family="Liberation Sans" textLength="9.90" lengthAdjust="spacingAndGlyphs">24</text>
<text x="359.30" y="284.70" font-size="8.2" font-weight="bold" fill="#111" stroke="#111" stroke-width="0.15" text-anchor="start" font-family="Liberation Sans" textLength="9.90" lengthAdjust="spacingAndGlyphs">20</text>
<text x="359.30" y="295.80" font-size="8.2" font-weight="bold" fill="#111" stroke="#111" stroke-width="0.15" text-anchor="start" font-family="Liberation Sans" textLength="9.90" lengthAdjust="spacingAndGlyphs">16</text>
<text transform="translate(351.50,272.85) rotate(-90)" x="0" y="0" font-size="9" font-weight="bold" fill="#000" stroke="#000" stroke-width="0.12" text-anchor="middle" font-family="Liberation Sans" textLength="28.10" lengthAdjust="spacingAndGlyphs">L (mm)</text>
<polyline points="376.60,257.00 377.47,261.81 378.71,268.88 380.12,275.75 381.50,280.00 382.77,280.56 384.06,278.88 385.44,276.25 387.00,274.00 388.85,272.27 390.91,270.44 393.01,268.63 395.00,267.00 396.83,265.61 398.60,264.38 400.32,263.20 402.00,262.00 403.79,260.63 405.64,259.19 407.26,257.90 408.40,257.00 409.31,263.39 410.62,272.77 412.03,281.94 413.20,287.70 414.01,288.66 414.65,286.71 415.26,283.57 416.00,281.00 416.87,279.29 417.80,277.58 418.83,275.83 420.00,274.00 421.36,272.00 422.88,269.88 424.45,267.81 426.00,266.00 427.46,264.52 428.91,263.25 430.39,262.11 432.00,261.00 433.95,259.84 436.12,258.69 438.12,257.70 439.50,257.00 440.32,264.42 441.51,275.30 442.79,285.95 443.90,292.70 444.76,293.90 445.52,291.74 446.24,288.26 447.00,285.50 447.74,283.92 448.44,282.45 449.25,280.86 450.30,278.90 451.68,276.27 453.31,273.17 455.03,270.14 456.70,267.70 458.28,266.01 459.85,264.79 461.44,263.90 463.10,263.20 465.01,262.74 467.10,262.57 468.99,262.54 470.30,262.50 471.16,266.78 472.39,273.07 473.78,279.17 475.10,282.90 476.25,283.32 477.35,281.72 478.55,279.24 480.00,277.00 481.81,275.05 483.87,272.88 486.00,270.77 488.00,269.00 489.80,267.73 491.50,266.77 493.20,265.93 495.00,265.00 497.12,263.85 499.44,262.60 501.54,261.48 503.00,260.70 503.94,267.14 505.29,276.59 506.82,285.71 508.30,291.10 509.67,291.19 511.04,288.01 512.47,283.60 514.00,280.00 515.64,277.53 517.36,275.18 519.15,272.99 521.00,271.00 522.93,269.25 524.94,267.71 526.98,266.31 529.00,265.00 531.17,263.70 533.45,262.48 535.48,261.43 536.90,260.70 537.73,267.43 538.91,277.31 540.27,286.88 541.60,292.70 542.89,293.21 544.22,290.47 545.59,286.42 547.00,283.00 548.43,280.45 549.90,277.83 551.42,275.30 553.00,273.00 554.71,270.93 556.52,269.01 558.32,267.34 560.00,266.00 561.54,265.06 562.99,264.46 564.38,264.08 565.70,263.80 567.06,263.65 568.41,263.66 569.58,263.75 570.40,263.80 571.22,267.32 572.38,272.49 573.73,277.49 575.10,280.50 576.44,280.72 577.84,279.23 579.35,277.00 581.00,275.00 582.88,273.31 584.93,271.47 587.02,269.64 589.00,268.00 590.81,266.58 592.54,265.31 594.25,264.13 596.00,263.00 598.00,261.86 600.14,260.74 602.06,259.78 603.40,259.10 604.24,265.52 605.44,274.95 606.80,284.08 608.10,289.60 609.26,290.01 610.41,287.27 611.62,283.30 613.00,280.00 614.58,277.61 616.31,275.21 618.13,272.95 620.00,271.00 621.92,269.44 623.91,268.17 625.95,267.06 628.00,266.00 630.27,264.90 632.70,263.84 634.88,262.93 636.40,262.30 637.35,269.22 638.72,279.39 640.25,289.23 641.70,295.20 643.01,295.68 644.31,292.78 645.63,288.55 647.00,285.00 648.43,282.42 649.89,279.80 651.41,277.28 653.00,275.00 654.59,273.01 656.19,271.23 657.95,269.59 660.00,268.00 662.71,266.35 665.89,264.71 668.85,263.29 670.90,262.30" fill="none" stroke="#1ca9ee" stroke-width="2.0" stroke-linejoin="round" stroke-linecap="round"/>
<rect x="395.70" y="264.30" width="8.30" height="24.50" fill="#b6c0c2" stroke="none" stroke-width="1"/>
<line x1="399.85" y1="264.30" x2="399.85" y2="288.80" stroke="#7a3a5a" stroke-width="1.3"/>
<rect x="426.80" y="264.30" width="8.30" height="24.50" fill="#b6c0c2" stroke="none" stroke-width="1"/>
<line x1="430.95" y1="264.30" x2="430.95" y2="288.80" stroke="#7a3a5a" stroke-width="1.3"/>
<rect x="458.50" y="265.10" width="8.40" height="25.90" fill="#b6c0c2" stroke="none" stroke-width="1"/>
<line x1="462.70" y1="265.10" x2="462.70" y2="291.00" stroke="#7a3a5a" stroke-width="1.3"/>
<rect x="376.00" y="289.90" width="25.80" height="8.70" fill="#b8c2c4" stroke="none" stroke-width="1"/>
<line x1="376.00" y1="294.25" x2="401.80" y2="294.25" stroke="#b49a40" stroke-width="1.2"/>
<text x="402.90" y="297.50" font-size="8.8" font-weight="bold" fill="#000" text-anchor="start" font-family="Liberation Sans" textLength="33.70" lengthAdjust="spacingAndGlyphs">Original</text>
<line x1="413.90" y1="286.00" x2="421.70" y2="286.00" stroke="#ee2a2a" stroke-width="0.9"/>
<polygon points="423.70,286.00 421.10,287.43 421.10,284.57" fill="#ee2a2a"/>
<line x1="446.00" y1="290.10" x2="453.50" y2="290.10" stroke="#ee2a2a" stroke-width="0.9"/>
<polygon points="455.50,290.10 452.90,291.53 452.90,288.67" fill="#ee2a2a"/>
<rect x="374.90" y="318.10" width="307.00" height="39.50" fill="none" stroke="#1a1a1a" stroke-width="1.3"/>
<line x1="374.90" y1="319.20" x2="377.10" y2="319.20" stroke="#1a1a1a" stroke-width="0.8"/>
<line x1="374.90" y1="327.50" x2="377.10" y2="327.50" stroke="#1a1a1a" stroke-width="0.8"/>
<line x1="374.90" y1="336.30" x2="377.10" y2="336.30" stroke="#1a1a1a" stroke-width="0.8"/>
<line x1="374.90" y1="345.00" x2="377.10" y2="345.00" stroke="#1a1a1a" stroke-width="0.8"/>
<line x1="374.90" y1="353.80" x2="377.10" y2="353.80" stroke="#1a1a1a" stroke-width="0.8"/>
<line x1="374.90" y1="323.35" x2="376.20" y2="323.35" stroke="#1a1a1a" stroke-width="0.6"/>
<line x1="374.90" y1="331.90" x2="376.20" y2="331.90" stroke="#1a1a1a" stroke-width="0.6"/>
<line x1="374.90" y1="340.65" x2="376.20" y2="340.65" stroke="#1a1a1a" stroke-width="0.6"/>
<line x1="374.90" y1="349.40" x2="376.20" y2="349.40" stroke="#1a1a1a" stroke-width="0.6"/>
<text x="350.80" y="321.30" font-size="8.6" font-weight="bold" fill="#111" stroke="#111" stroke-width="0.15" text-anchor="start" font-family="Liberation Sans" textLength="22.00" lengthAdjust="spacingAndGlyphs">0.020</text>
<text x="350.80" y="330.25" font-size="8.6" font-weight="bold" fill="#111" stroke="#111" stroke-width="0.15" text-anchor="start" font-family="Liberation Sans" textLength="22.00" lengthAdjust="spacingAndGlyphs">0.015</text>
<text x="350.80" y="339.20" font-size="8.6" font-weight="bold" fill="#111" stroke="#111" stroke-width="0.15" text-anchor="start" font-family="Liberation Sans" textLength="22.00" lengthAdjust="spacingAndGlyphs">0.010</text>
<text x="350.80" y="348.15" font-size="8.6" font-weight="bold" fill="#111" stroke="#111" stroke-width="0.15" text-anchor="start" font-family="Liberation Sans" textLength="22.00" lengthAdjust="spacingAndGlyphs">0.005</text>
<text x="350.80" y="357.10" font-size="8.6" font-weight="bold" fill="#111" stroke="#111" stroke-width="0.15" text-anchor="start" font-family="Liberation Sans" textLength="22.00" lengthAdjust="spacingAndGlyphs">0.000</text>
<text transform="translate(347.40,336.80) rotate(-90)" x="0" y="0" font-size="9" font-weight="bold" fill="#000" stroke="#000" stroke-width="0.12" text-anchor="middle" font-family="Liberation Sans" textLength="51.60" lengthAdjust="spacingAndGlyphs">Current (μA)</text>
<polyline points="377.70,351.20 378.10,350.21 378.66,348.81 379.32,347.06 380.00,345.00 380.71,342.07 381.49,338.45 382.27,335.25 383.00,333.60 383.66,334.17 384.28,336.24 384.89,338.84 385.50,341.00 386.11,342.57 386.72,344.02 387.34,345.35 388.00,346.50 388.69,347.45 389.41,348.23 390.17,348.89 391.00,349.50 391.91,350.06 392.88,350.54 393.91,350.95 395.00,351.30 396.09,351.58 397.20,351.80 398.46,351.97 400.00,352.10 402.10,352.30 404.61,352.52 407.01,352.58 408.80,352.30 409.68,351.96 409.96,351.55 410.09,350.44 410.50,348.00 411.34,342.97 412.37,336.06 413.41,329.56 414.30,325.80 414.94,325.93 415.43,328.52 415.91,332.06 416.50,335.00 417.23,337.14 418.03,339.24 418.89,341.17 419.80,342.80 420.74,344.01 421.73,344.89 422.80,345.65 424.00,346.50 425.40,347.51 426.97,348.57 428.55,349.59 430.00,350.50 431.20,351.31 432.26,352.06 433.37,352.67 434.70,353.10 436.47,353.94 438.51,355.01 440.50,355.11 442.10,353.00 443.15,346.82 443.86,337.73 444.41,329.08 445.00,324.20 445.65,324.79 446.27,328.80 446.88,333.96 447.50,338.00 448.12,340.50 448.74,342.60 449.37,344.40 450.00,346.00 450.53,347.40 450.99,348.55 451.61,349.48 452.60,350.20 454.00,350.67 455.69,350.89 457.69,350.97 460.00,351.00 462.92,351.38 466.35,351.94 469.68,351.90 472.30,350.50 473.96,346.56 475.01,340.83 475.76,335.37 476.50,332.30 477.22,332.66 477.79,335.17 478.34,338.42 479.00,341.00 479.73,342.67 480.49,344.12 481.41,345.40 482.60,346.50 484.12,347.39 485.90,348.08 487.88,348.65 490.00,349.20 492.41,349.74 495.08,350.23 497.71,350.65 500.00,351.00 501.85,351.88 503.42,353.09 504.81,353.43 506.10,351.70 507.31,346.20 508.39,338.04 509.35,330.20 510.20,325.70 510.90,326.03 511.45,329.35 511.95,333.67 512.50,337.00 513.08,338.91 513.64,340.43 514.26,341.73 515.00,343.00 515.80,344.28 516.66,345.48 517.68,346.56 519.00,347.50 520.66,348.26 522.59,348.87 524.73,349.37 527.00,349.80 529.64,350.21 532.59,350.56 535.38,350.78 537.50,350.80 538.66,351.11 539.17,351.58 539.47,351.20 540.00,349.00 540.88,343.26 541.89,335.00 542.90,327.29 543.80,323.20 544.56,324.43 545.23,329.05 545.86,334.69 546.50,339.00 547.10,341.43 547.66,343.21 548.26,344.63 549.00,346.00 549.87,347.40 550.83,348.67 551.93,349.73 553.20,350.50 554.74,350.90 556.49,350.98 558.30,350.90 560.00,350.80 561.56,350.66 563.05,350.43 564.52,350.18 566.00,350.00 567.52,350.36 569.04,351.06 570.55,351.21 572.00,349.90 573.45,345.91 574.89,340.05 576.21,334.46 577.30,331.30 578.04,331.62 578.51,334.11 578.93,337.37 579.50,340.00 580.20,341.79 580.95,343.44 581.85,344.90 583.00,346.10 584.48,346.98 586.22,347.59 588.10,348.05 590.00,348.50 591.95,348.95 594.00,349.35 596.05,349.70 598.00,350.00 599.89,350.87 601.75,352.11 603.48,352.49 605.00,350.80 606.25,345.33 607.28,337.20 608.18,329.42 609.00,325.00 609.73,325.46 610.34,328.95 610.91,333.47 611.50,337.00 612.11,339.18 612.72,341.02 613.34,342.60 614.00,344.00 614.60,345.18 615.16,346.12 615.89,346.93 617.00,347.70 618.62,348.44 620.62,349.11 622.81,349.72 625.00,350.30 627.30,350.87 629.75,351.40 632.08,351.88 634.00,352.30 635.34,353.36 636.27,354.84 637.07,355.30 638.00,353.30 639.16,346.77 640.40,337.05 641.59,327.78 642.60,322.60 643.35,323.38 643.93,327.88 644.44,333.59 645.00,338.00 645.61,340.63 646.21,342.76 646.84,344.51 647.50,346.00 648.18,347.21 648.88,348.08 649.63,348.72 650.50,349.20 651.47,349.49 652.53,349.57 653.70,349.54 655.00,349.50 656.53,349.43 658.25,349.30 659.97,349.19 661.50,349.20 662.74,349.35 663.79,349.60 664.83,349.92 666.00,350.30 667.49,350.80 669.18,351.42 670.73,352.00 671.80,352.40" fill="none" stroke="#f57aa6" stroke-width="1.9" stroke-linejoin="round" stroke-linecap="round"/>
<rect x="376.20" y="376.30" width="307.20" height="45.90" fill="none" stroke="#1a1a1a" stroke-width="1.3"/>
<line x1="376.20" y1="376.30" x2="378.40" y2="376.30" stroke="#1a1a1a" stroke-width="0.8"/>
<line x1="376.20" y1="385.00" x2="378.40" y2="385.00" stroke="#1a1a1a" stroke-width="0.8"/>
<line x1="376.20" y1="395.10" x2="378.40" y2="395.10" stroke="#1a1a1a" stroke-width="0.8"/>
<line x1="376.20" y1="405.10" x2="378.40" y2="405.10" stroke="#1a1a1a" stroke-width="0.8"/>
<line x1="376.20" y1="414.70" x2="378.40" y2="414.70" stroke="#1a1a1a" stroke-width="0.8"/>
<line x1="376.20" y1="380.65" x2="377.50" y2="380.65" stroke="#1a1a1a" stroke-width="0.6"/>
<line x1="376.20" y1="390.05" x2="377.50" y2="390.05" stroke="#1a1a1a" stroke-width="0.6"/>
<line x1="376.20" y1="400.10" x2="377.50" y2="400.10" stroke="#1a1a1a" stroke-width="0.6"/>
<line x1="376.20" y1="409.90" x2="377.50" y2="409.90" stroke="#1a1a1a" stroke-width="0.6"/>
<text x="357.30" y="378.90" font-size="8.6" font-weight="bold" fill="#111" stroke="#111" stroke-width="0.15" text-anchor="start" font-family="Liberation Sans" textLength="17.50" lengthAdjust="spacingAndGlyphs">0.12</text>
<text x="357.30" y="388.00" font-size="8.6" font-weight="bold" fill="#111" stroke="#111" stroke-width="0.15" text-anchor="start" font-family="Liberation Sans" textLength="17.50" lengthAdjust="spacingAndGlyphs">0.09</text>
<text x="357.30" y="398.10" font-size="8.6" font-weight="bold" fill="#111" stroke="#111" stroke-width="0.15" text-anchor="start" font-family="Liberation Sans" textLength="17.50" lengthAdjust="spacingAndGlyphs">0.06</text>
<text x="357.30" y="408.10" font-size="8.6" font-weight="bold" fill="#111" stroke="#111" stroke-width="0.15" text-anchor="start" font-family="Liberation Sans" textLength="17.50" lengthAdjust="spacingAndGlyphs">0.03</text>
<text x="357.30" y="417.70" font-size="8.6" font-weight="bold" fill="#111" stroke="#111" stroke-width="0.15" text-anchor="start" font-family="Liberation Sans" textLength="17.50" lengthAdjust="spacingAndGlyphs">0.00</text>
<text transform="translate(340.60,398.50) rotate(-90)" x="0" y="0" font-size="9" font-weight="bold" fill="#000" stroke="#000" stroke-width="0.12" text-anchor="middle" font-family="Liberation Sans" textLength="39.40" lengthAdjust="spacingAndGlyphs">Actuation</text>
<text transform="translate(350.40,398.50) rotate(-90)" x="0" y="0" font-size="9" font-weight="bold" fill="#000" stroke="#000" stroke-width="0.12" text-anchor="middle" font-family="Liberation Sans" textLength="34.00" lengthAdjust="spacingAndGlyphs">force (N)</text>
<polyline points="378.60,413.10 379.40,405.00 380.40,396.95 381.40,391.41 382.20,388.99 382.60,388.60 383.60,388.60 384.86,388.60 384.86,392.33 386.11,392.33 386.11,395.91 387.37,395.91 387.37,399.32 388.63,399.32 388.63,402.51 389.89,402.51 389.89,405.45 391.14,405.45 391.14,408.03 392.40,408.03 392.40,409.90 400.00,409.90 400.00,412.90 410.50,412.90 410.50,412.90 411.48,403.77 412.70,394.71 413.93,388.46 414.91,385.74 415.40,385.30 418.70,385.30 420.41,385.30 420.41,389.61 422.13,389.61 422.13,393.75 423.84,393.75 423.84,397.68 425.56,397.68 425.56,401.37 427.27,401.37 427.27,404.76 428.99,404.76 428.99,407.74 430.70,407.74 430.70,409.90 438.40,409.90 438.40,412.90 441.70,412.90 441.70,412.90 442.36,402.84 443.19,392.86 444.01,385.98 444.67,382.98 445.00,382.50 446.00,382.50 448.20,382.50 448.20,387.30 450.40,387.30 450.40,391.91 452.60,391.91 452.60,396.29 454.80,396.29 454.80,400.40 457.00,400.40 457.00,404.18 459.20,404.18 459.20,407.49 461.40,407.49 461.40,409.90 468.00,409.90 468.00,412.90 473.40,412.90 473.40,412.90 474.10,404.93 474.97,397.02 475.85,391.56 476.55,389.18 476.90,388.80 477.90,388.80 479.46,388.80 479.46,392.38 481.01,392.38 481.01,395.80 482.57,395.80 482.57,399.06 484.13,399.06 484.13,402.13 485.69,402.13 485.69,404.94 487.24,404.94 487.24,407.41 488.80,407.41 488.80,409.20 499.80,409.20 499.80,411.70 507.00,411.70 507.00,411.70 507.76,402.90 508.71,394.17 509.66,388.15 510.42,385.52 510.80,385.10 511.80,385.10 513.69,385.10 513.69,389.32 515.57,389.32 515.57,393.37 517.46,393.37 517.46,397.23 519.34,397.23 519.34,400.84 521.23,400.84 521.23,404.17 523.11,404.17 523.11,407.08 525.00,407.08 525.00,409.20 532.80,409.20 532.80,411.70 539.00,411.70 539.00,411.70 539.76,402.07 540.71,392.52 541.66,385.93 542.42,383.06 542.80,382.60 543.80,382.60 546.04,382.60 546.04,387.70 548.29,387.70 548.29,392.59 550.53,392.59 550.53,397.24 552.77,397.24 552.77,401.61 555.01,401.61 555.01,405.62 557.26,405.62 557.26,409.14 559.50,409.14 559.50,411.70 560.00,411.70 560.00,411.70 574.50,411.70 574.50,411.70 575.26,404.12 576.21,396.61 577.16,391.42 577.92,389.16 578.30,388.80 579.30,388.80 582.07,388.80 582.07,392.38 584.84,392.38 584.84,395.80 587.61,395.80 587.61,399.06 590.39,399.06 590.39,402.13 593.16,402.13 593.16,404.94 595.93,404.94 595.93,407.41 598.70,407.41 598.70,409.20 603.00,409.20 603.00,411.70 606.50,411.70 606.50,411.70 607.26,402.90 608.21,394.17 609.16,388.15 609.92,385.52 610.30,385.10 611.30,385.10 613.97,385.10 613.97,389.76 616.64,389.76 616.64,394.23 619.31,394.23 619.31,398.48 621.99,398.48 621.99,402.48 624.66,402.48 624.66,406.14 627.33,406.14 627.33,409.36 630.00,409.36 630.00,411.70 630.50,411.70 630.50,411.70 639.50,411.70 639.50,411.70 640.44,402.07 641.62,392.52 642.79,385.93 643.73,383.06 644.20,382.60 645.20,382.60 647.07,382.60 647.07,387.26 648.94,387.26 648.94,391.73 650.81,391.73 650.81,395.98 652.69,395.98 652.69,399.98 654.56,399.98 654.56,403.64 656.43,403.64 656.43,406.86 658.30,406.86 658.30,409.20 664.60,409.20 664.60,411.70 673.40,411.70" fill="none" stroke="#76c043" stroke-width="1.8" stroke-linejoin="round" stroke-linecap="round" stroke-linejoin="miter" stroke-linecap="butt"/>
<rect x="397.00" y="409.50" width="3.50" height="3.60" fill="#76c043" stroke="none" stroke-width="1"/>
<rect x="435.00" y="409.50" width="3.50" height="3.60" fill="#76c043" stroke="none" stroke-width="1"/>
<rect x="465.00" y="409.50" width="3.50" height="3.60" fill="#76c043" stroke="none" stroke-width="1"/>
<rect x="495.50" y="409.00" width="4.00" height="3.20" fill="#76c043" stroke="none" stroke-width="1"/>
<rect x="536.00" y="411.00" width="4.00" height="4.50" fill="#76c043" stroke="none" stroke-width="1"/>
<rect x="661.00" y="409.00" width="4.00" height="3.20" fill="#76c043" stroke="none" stroke-width="1"/>
<text x="1.10" y="453.80" font-size="17" font-weight="bold" fill="#000" text-anchor="start" font-family="Liberation Serif" textLength="18.20" lengthAdjust="spacingAndGlyphs">(ii)</text>
<polyline points="8.80,497.40 24.10,497.40 24.10,443.80 67.90,443.80 67.90,497.40 82.10,497.40" fill="none" stroke="#000" stroke-width="1.7" stroke-linejoin="round" stroke-linecap="round" stroke-dasharray="1.2,3.1" stroke-linejoin="miter" stroke-linecap="butt"/>
<polyline points="8.80,499.60 25.20,499.60 25.20,469.00 41.60,469.00 41.60,445.30 65.30,445.30 65.30,499.60 82.10,499.60" fill="none" stroke="#f7941d" stroke-width="1.5" stroke-linejoin="round" stroke-linecap="round" stroke-linejoin="miter" stroke-linecap="butt"/>
<rect x="95.20" y="442.30" width="175.20" height="55.80" fill="none" stroke="#1a1a1a" stroke-width="1.3"/>
<line x1="95.20" y1="443.80" x2="97.40" y2="443.80" stroke="#1a1a1a" stroke-width="0.8"/>
<line x1="95.20" y1="453.60" x2="97.40" y2="453.60" stroke="#1a1a1a" stroke-width="0.8"/>
<line x1="95.20" y1="465.00" x2="97.40" y2="465.00" stroke="#1a1a1a" stroke-width="0.8"/>
<line x1="95.20" y1="476.00" x2="97.40" y2="476.00" stroke="#1a1a1a" stroke-width="0.8"/>
<line x1="95.20" y1="487.60" x2="97.40" y2="487.60" stroke="#1a1a1a" stroke-width="0.8"/>
<text x="84.50" y="446.70" font-size="8.2" font-weight="bold" fill="#111" stroke="#111" stroke-width="0.15" text-anchor="start" font-family="Liberation Sans" textLength="9.20" lengthAdjust="spacingAndGlyphs">30</text>
<text x="84.50" y="456.50" font-size="8.2" font-weight="bold" fill="#111" stroke="#111" stroke-width="0.15" text-anchor="start" font-family="Liberation Sans" textLength="9.20" lengthAdjust="spacingAndGlyphs">27</text>
<text x="84.50" y="467.90" font-size="8.2" font-weight="bold" fill="#111" stroke="#111" stroke-width="0.15" text-anchor="start" font-family="Liberation Sans" textLength="9.20" lengthAdjust="spacingAndGlyphs">24</text>
<text x="84.50" y="478.90" font-size="8.2" font-weight="bold" fill="#111" stroke="#111" stroke-width="0.15" text-anchor="start" font-family="Liberation Sans" textLength="9.20" lengthAdjust="spacingAndGlyphs">21</text>
<text x="84.50" y="490.50" font-size="8.2" font-weight="bold" fill="#111" stroke="#111" stroke-width="0.15" text-anchor="start" font-family="Liberation Sans" textLength="9.20" lengthAdjust="spacingAndGlyphs">18</text>
<text transform="translate(78.00,463.15) rotate(-90)" x="0" y="0" font-size="9" font-weight="bold" fill="#000" stroke="#000" stroke-width="0.12" text-anchor="middle" font-family="Liberation Sans" textLength="29.50" lengthAdjust="spacingAndGlyphs">L (mm)</text>
<polyline points="104.70,448.80 105.27,453.92 106.08,461.44 106.98,468.77 107.80,473.30 108.49,473.80 109.13,471.83 109.79,469.02 110.50,467.00 111.38,466.09 112.37,465.46 113.27,465.02 113.90,464.70 114.63,467.05 115.69,470.40 116.87,474.23 118.00,478.00 119.05,482.33 120.12,487.26 121.18,491.35 122.20,493.20 123.15,491.87 124.05,488.30 124.98,483.88 126.00,480.00 127.17,476.80 128.43,473.61 129.72,470.61 131.00,468.00 132.16,465.89 133.25,464.15 134.47,462.61 136.00,461.10 138.02,459.56 140.38,458.09 142.80,456.72 145.00,455.50 146.89,454.47 148.62,453.60 150.30,452.80 152.00,452.00 153.91,451.10 155.94,450.18 157.74,449.37 159.00,448.80 159.74,454.29 160.81,462.34 161.98,470.15 163.00,474.90 163.82,475.18 164.56,472.72 165.27,469.38 166.00,467.00 166.84,465.98 167.74,465.36 168.54,464.98 169.10,464.70 169.80,467.12 170.81,470.59 171.94,474.44 173.00,478.00 173.92,481.70 174.82,485.69 175.75,488.89 176.80,490.20 177.98,488.79 179.26,485.42 180.61,481.40 182.00,478.00 183.44,475.46 184.94,473.14 186.47,470.99 188.00,469.00 189.45,467.25 190.86,465.71 192.39,464.22 194.20,462.60 196.39,460.75 198.85,458.79 201.44,456.83 204.00,455.00 206.76,453.21 209.71,451.43 212.36,449.88 214.20,448.80 214.74,454.76 215.52,463.53 216.39,471.98 217.20,477.00 217.92,477.01 218.64,473.91 219.33,469.85 220.00,467.00 220.68,465.83 221.38,465.23 221.98,464.93 222.40,464.70 223.24,467.31 224.45,471.06 225.78,475.20 227.00,479.00 228.00,482.95 228.91,487.22 229.87,490.56 231.00,491.70 232.34,489.69 233.81,485.39 235.38,480.33 237.00,476.00 238.64,472.63 240.34,469.49 242.12,466.60 244.00,464.00 246.04,461.69 248.22,459.66 250.41,457.92 252.50,456.50 254.42,455.48 256.26,454.82 258.09,454.37 260.00,454.00 262.23,453.70 264.67,453.54 266.87,453.46 268.40,453.40" fill="none" stroke="#1ca9ee" stroke-width="2.0" stroke-linejoin="round" stroke-linecap="round"/>
<rect x="111.70" y="444.20" width="22.30" height="8.30" fill="#1a86aa" stroke="none" stroke-width="1"/>
<line x1="111.70" y1="448.35" x2="134.00" y2="448.35" stroke="#2a6070" stroke-width="0.9"/>
<text x="136.00" y="450.30" font-size="8.8" font-weight="bold" fill="#000" text-anchor="start" font-family="Liberation Sans" textLength="33.70" lengthAdjust="spacingAndGlyphs">Original</text>
<rect x="99.00" y="485.40" width="22.10" height="8.30" fill="#1a86aa" stroke="none" stroke-width="1"/>
<line x1="99.00" y1="489.55" x2="121.10" y2="489.55" stroke="#2a6070" stroke-width="0.9"/>
<rect x="137.50" y="484.00" width="23.60" height="9.20" fill="#1a86aa" stroke="none" stroke-width="1"/>
<line x1="137.50" y1="488.60" x2="161.10" y2="488.60" stroke="#2a6070" stroke-width="0.9"/>
<line x1="110.60" y1="475.50" x2="110.60" y2="480.70" stroke="#ee2a2a" stroke-width="0.9"/>
<polygon points="110.60,482.70 109.17,480.10 112.03,480.10" fill="#ee2a2a"/>
<line x1="128.10" y1="491.50" x2="134.20" y2="491.50" stroke="#ee2a2a" stroke-width="0.9"/>
<polygon points="136.20,491.50 133.60,492.93 133.60,490.07" fill="#ee2a2a"/>
<rect x="302.70" y="442.20" width="175.70" height="54.80" fill="none" stroke="#1a1a1a" stroke-width="1.3"/>
<line x1="302.70" y1="442.70" x2="304.90" y2="442.70" stroke="#1a1a1a" stroke-width="0.8"/>
<line x1="302.70" y1="458.60" x2="304.90" y2="458.60" stroke="#1a1a1a" stroke-width="0.8"/>
<line x1="302.70" y1="476.20" x2="304.90" y2="476.20" stroke="#1a1a1a" stroke-width="0.8"/>
<line x1="302.70" y1="493.00" x2="304.90" y2="493.00" stroke="#1a1a1a" stroke-width="0.8"/>
<text x="284.70" y="445.70" font-size="8.6" font-weight="bold" fill="#111" stroke="#111" stroke-width="0.15" text-anchor="start" font-family="Liberation Sans" textLength="16.40" lengthAdjust="spacingAndGlyphs">0.03</text>
<text x="284.70" y="461.60" font-size="8.6" font-weight="bold" fill="#111" stroke="#111" stroke-width="0.15" text-anchor="start" font-family="Liberation Sans" textLength="16.40" lengthAdjust="spacingAndGlyphs">0.02</text>
<text x="284.70" y="479.20" font-size="8.6" font-weight="bold" fill="#111" stroke="#111" stroke-width="0.15" text-anchor="start" font-family="Liberation Sans" textLength="16.40" lengthAdjust="spacingAndGlyphs">0.01</text>
<text x="284.70" y="496.00" font-size="8.6" font-weight="bold" fill="#111" stroke="#111" stroke-width="0.15" text-anchor="start" font-family="Liberation Sans" textLength="16.40" lengthAdjust="spacingAndGlyphs">0.00</text>
<text transform="translate(280.80,466.25) rotate(-90)" x="0" y="0" font-size="9" font-weight="bold" fill="#000" stroke="#000" stroke-width="0.12" text-anchor="middle" font-family="Liberation Sans" textLength="51.50" lengthAdjust="spacingAndGlyphs">Current (μA)</text>
<polyline points="311.40,490.80 311.60,490.81 311.88,490.86 312.25,490.61 312.70,489.70 313.28,487.52 313.97,484.44 314.70,481.54 315.40,479.90 316.00,480.05 316.56,481.33 317.18,483.05 318.00,484.50 319.13,486.09 320.48,488.00 321.83,489.18 323.00,488.60 323.89,485.52 324.63,480.65 325.30,475.10 326.00,470.00 326.76,464.84 327.54,459.31 328.27,454.74 328.90,452.50 329.40,453.59 329.80,457.07 330.15,461.39 330.50,465.00 330.82,467.63 331.11,470.07 331.42,472.32 331.80,474.40 332.26,476.27 332.77,477.94 333.35,479.49 334.00,481.00 334.64,482.54 335.31,484.06 336.14,485.42 337.30,486.50 338.92,487.21 340.88,487.62 342.98,487.91 345.00,488.20 346.91,488.52 348.82,488.79 350.72,489.05 352.60,489.30 354.50,489.54 356.42,489.77 358.27,490.01 360.00,490.30 361.64,490.81 363.20,491.47 364.59,491.94 365.70,491.90 366.42,491.16 366.84,489.92 367.13,488.45 367.50,487.00 367.94,485.28 368.38,483.28 368.85,481.64 369.40,481.00 369.98,481.90 370.59,483.86 371.33,486.05 372.30,487.60 373.67,488.70 375.34,489.68 377.01,489.86 378.40,488.60 379.38,485.31 380.11,480.48 380.77,475.06 381.50,470.00 382.38,464.75 383.32,459.08 384.22,454.39 385.00,452.10 385.59,453.19 386.04,456.71 386.48,461.14 387.00,465.00 387.63,468.12 388.33,471.24 389.05,474.13 389.80,476.60 390.52,478.49 391.23,479.96 392.02,481.21 393.00,482.50 394.17,483.89 395.47,485.25 396.95,486.51 398.60,487.60 400.53,488.47 402.70,489.16 404.92,489.75 407.00,490.30 408.87,490.89 410.64,491.46 412.39,491.88 414.20,492.00 416.23,491.91 418.39,491.64 420.39,490.97 421.90,489.70 422.62,487.13 422.79,483.59 422.94,480.38 423.60,478.80 425.09,480.17 427.06,483.48 429.07,486.52 430.70,487.10 431.80,483.95 432.62,478.46 433.28,472.46 433.90,467.80 434.47,465.03 434.93,463.16 435.36,461.66 435.80,460.00 436.29,457.71 436.79,455.17 437.27,453.17 437.70,452.50 438.06,453.66 438.38,456.14 438.67,459.18 439.00,462.00 439.34,464.56 439.68,467.21 440.05,469.80 440.50,472.20 441.02,474.32 441.59,476.26 442.24,478.12 443.00,480.00 443.78,482.02 444.59,484.09 445.64,486.01 447.10,487.60 449.19,488.79 451.75,489.69 454.44,490.35 456.90,490.80 458.99,490.96 460.91,490.83 462.85,490.61 465.00,490.50 467.70,490.54 470.76,490.63 473.56,490.73 475.50,490.80" fill="none" stroke="#f57aa6" stroke-width="1.9" stroke-linejoin="round" stroke-linecap="round"/>
<rect x="507.70" y="443.10" width="174.70" height="55.00" fill="none" stroke="#1a1a1a" stroke-width="1.3"/>
<line x1="507.70" y1="448.20" x2="509.90" y2="448.20" stroke="#1a1a1a" stroke-width="0.8"/>
<line x1="507.70" y1="463.00" x2="509.90" y2="463.00" stroke="#1a1a1a" stroke-width="0.8"/>
<line x1="507.70" y1="476.80" x2="509.90" y2="476.80" stroke="#1a1a1a" stroke-width="0.8"/>
<line x1="507.70" y1="490.30" x2="509.90" y2="490.30" stroke="#1a1a1a" stroke-width="0.8"/>
<text x="489.90" y="451.20" font-size="8.6" font-weight="bold" fill="#111" stroke="#111" stroke-width="0.15" text-anchor="start" font-family="Liberation Sans" textLength="17.10" lengthAdjust="spacingAndGlyphs">0.12</text>
<text x="489.90" y="466.00" font-size="8.6" font-weight="bold" fill="#111" stroke="#111" stroke-width="0.15" text-anchor="start" font-family="Liberation Sans" textLength="17.10" lengthAdjust="spacingAndGlyphs">0.08</text>
<text x="489.90" y="479.80" font-size="8.6" font-weight="bold" fill="#111" stroke="#111" stroke-width="0.15" text-anchor="start" font-family="Liberation Sans" textLength="17.10" lengthAdjust="spacingAndGlyphs">0.04</text>
<text x="489.90" y="493.30" font-size="8.6" font-weight="bold" fill="#111" stroke="#111" stroke-width="0.15" text-anchor="start" font-family="Liberation Sans" textLength="17.10" lengthAdjust="spacingAndGlyphs">0.00</text>
<text transform="translate(488.20,462.85) rotate(-90)" x="0" y="0" font-size="9" font-weight="bold" fill="#000" stroke="#000" stroke-width="0.12" text-anchor="middle" font-family="Liberation Sans" textLength="80.30" lengthAdjust="spacingAndGlyphs">Actuation force (N)</text>
<polyline points="515.00,491.50 516.00,491.50 516.14,487.53 516.34,481.77 516.56,475.69 516.77,470.74 516.97,467.25 517.16,464.47 517.36,462.23 517.54,460.36 517.73,458.93 517.92,457.98 518.08,457.36 518.20,456.90 525.20,481.00 525.52,477.47 525.98,472.37 526.50,466.97 526.99,462.58 527.44,459.49 527.89,457.02 528.34,455.02 528.77,453.37 529.21,452.10 529.65,451.26 530.03,450.71 530.30,450.30 533.10,450.30 534.27,450.30 534.27,456.77 535.45,456.77 535.45,462.63 536.62,462.63 536.62,467.87 537.79,467.87 537.79,472.50 538.96,472.50 538.96,476.50 540.14,476.50 540.14,479.89 541.31,479.89 541.31,482.67 542.48,482.67 542.48,484.83 543.65,484.83 543.65,486.37 544.83,486.37 544.83,487.29 546.00,487.29 546.00,487.60 552.50,487.60 552.50,491.50 571.10,491.50 571.10,491.50 572.70,491.50 572.84,487.15 573.04,480.84 573.26,474.18 573.47,468.76 573.67,464.94 573.86,461.89 574.06,459.43 574.24,457.39 574.43,455.82 574.62,454.78 574.78,454.10 574.90,453.60 582.10,481.00 582.41,477.47 582.87,472.37 583.37,466.97 583.85,462.58 584.29,459.49 584.74,457.02 585.18,455.02 585.60,453.37 586.03,452.10 586.46,451.26 586.84,450.71 587.10,450.30 590.20,450.30 591.36,450.30 591.36,456.77 592.53,456.77 592.53,462.63 593.69,462.63 593.69,467.87 594.85,467.87 594.85,472.50 596.02,472.50 596.02,476.50 597.18,476.50 597.18,479.89 598.35,479.89 598.35,482.67 599.51,482.67 599.51,484.83 600.67,484.83 600.67,486.37 601.84,486.37 601.84,487.29 603.00,487.29 603.00,487.60 607.30,487.60 607.30,491.50 624.80,491.50 624.80,491.50 624.80,491.50 624.94,487.15 625.14,480.84 625.36,474.18 625.57,468.76 625.77,464.94 625.96,461.89 626.16,459.43 626.34,457.39 626.53,455.82 626.72,454.78 626.88,454.10 627.00,453.60 635.30,481.00 635.60,477.47 636.03,472.37 636.52,466.97 636.98,462.58 637.41,459.49 637.84,457.02 638.26,455.02 638.66,453.37 639.07,452.10 639.48,451.26 639.85,450.71 640.10,450.30 643.40,450.30 644.69,450.30 644.69,456.77 645.98,456.77 645.98,462.63 647.27,462.63 647.27,467.87 648.56,467.87 648.56,472.50 649.85,472.50 649.85,476.50 651.15,476.50 651.15,479.89 652.44,479.89 652.44,482.67 653.73,482.67 653.73,484.83 655.02,484.83 655.02,486.37 656.31,486.37 656.31,487.29 657.60,487.29 657.60,487.60 664.20,487.60 664.20,491.50 679.50,491.50" fill="none" stroke="#76c043" stroke-width="1.8" stroke-linejoin="round" stroke-linecap="round" stroke-linejoin="miter" stroke-linecap="butt"/>
<rect x="549.50" y="487.60" width="3.50" height="3.90" fill="#76c043" stroke="none" stroke-width="1"/>
<rect x="661.00" y="487.60" width="4.00" height="3.90" fill="#76c043" stroke="none" stroke-width="1"/>
<text x="0.50" y="535.30" font-size="17" font-weight="bold" fill="#000" text-anchor="start" font-family="Liberation Serif" textLength="22.50" lengthAdjust="spacingAndGlyphs">(iii)</text>
<polyline points="11.40,573.50 26.30,573.50 26.30,546.80 70.50,546.80 70.50,573.50 84.30,573.50" fill="none" stroke="#000" stroke-width="1.7" stroke-linejoin="round" stroke-linecap="round" stroke-dasharray="1.2,3.1" stroke-linejoin="miter" stroke-linecap="butt"/>
<polyline points="11.40,575.00 27.80,575.00 27.80,520.50 49.70,520.50 49.70,549.40 68.50,549.40 68.50,575.00 84.30,575.00" fill="none" stroke="#f7941d" stroke-width="1.5" stroke-linejoin="round" stroke-linecap="round" stroke-linejoin="miter" stroke-linecap="butt"/>
<rect x="98.50" y="522.70" width="174.80" height="54.10" fill="none" stroke="#1a1a1a" stroke-width="1.3"/>
<line x1="98.50" y1="525.30" x2="100.70" y2="525.30" stroke="#1a1a1a" stroke-width="0.8"/>
<line x1="98.50" y1="538.50" x2="100.70" y2="538.50" stroke="#1a1a1a" stroke-width="0.8"/>
<line x1="98.50" y1="551.00" x2="100.70" y2="551.00" stroke="#1a1a1a" stroke-width="0.8"/>
<line x1="98.50" y1="563.60" x2="100.70" y2="563.60" stroke="#1a1a1a" stroke-width="0.8"/>
<line x1="98.50" y1="575.30" x2="100.70" y2="575.30" stroke="#1a1a1a" stroke-width="0.8"/>
<text x="87.10" y="528.20" font-size="8.2" font-weight="bold" fill="#111" stroke="#111" stroke-width="0.15" text-anchor="start" font-family="Liberation Sans" textLength="9.20" lengthAdjust="spacingAndGlyphs">27</text>
<text x="87.10" y="541.40" font-size="8.2" font-weight="bold" fill="#111" stroke="#111" stroke-width="0.15" text-anchor="start" font-family="Liberation Sans" textLength="9.20" lengthAdjust="spacingAndGlyphs">24</text>
<text x="87.10" y="553.90" font-size="8.2" font-weight="bold" fill="#111" stroke="#111" stroke-width="0.15" text-anchor="start" font-family="Liberation Sans" textLength="9.20" lengthAdjust="spacingAndGlyphs">21</text>
<text x="87.10" y="566.50" font-size="8.2" font-weight="bold" fill="#111" stroke="#111" stroke-width="0.15" text-anchor="start" font-family="Liberation Sans" textLength="9.20" lengthAdjust="spacingAndGlyphs">18</text>
<text x="87.10" y="578.20" font-size="8.2" font-weight="bold" fill="#111" stroke="#111" stroke-width="0.15" text-anchor="start" font-family="Liberation Sans" textLength="9.20" lengthAdjust="spacingAndGlyphs">15</text>
<text transform="translate(79.00,545.05) rotate(-90)" x="0" y="0" font-size="9" font-weight="bold" fill="#000" stroke="#000" stroke-width="0.12" text-anchor="middle" font-family="Liberation Sans" textLength="28.50" lengthAdjust="spacingAndGlyphs">L (mm)</text>
<polyline points="109.90,525.30 110.28,528.90 110.83,534.09 111.43,539.80 112.00,545.00 112.50,549.63 113.00,554.19 113.50,558.40 114.00,562.00 114.48,565.26 114.93,568.21 115.45,570.22 116.10,570.70 116.94,568.96 117.91,565.50 118.95,561.47 120.00,558.00 121.10,554.96 122.26,551.87 123.36,549.43 124.30,548.30 125.01,549.10 125.56,551.31 126.03,553.95 126.50,556.00 126.91,557.50 127.24,558.88 127.66,559.74 128.30,559.70 129.24,558.36 130.39,556.04 131.67,553.37 133.00,551.00 134.30,549.12 135.62,547.38 137.13,545.63 139.00,543.70 141.29,541.50 143.91,539.12 146.78,536.73 149.80,534.50 153.36,532.31 157.38,530.12 161.05,528.23 163.60,526.90 164.01,530.75 164.61,536.28 165.29,542.40 166.00,548.00 166.71,553.53 167.46,559.34 168.25,564.15 169.10,566.70 170.01,566.00 170.97,562.94 171.97,559.09 173.00,556.00 174.13,553.68 175.34,551.44 176.49,549.78 177.40,549.20 178.00,550.15 178.39,552.26 178.68,554.79 179.00,557.00 179.27,559.18 179.45,561.58 179.76,563.33 180.40,563.60 181.44,561.75 182.78,558.36 184.32,554.44 186.00,551.00 187.81,548.20 189.77,545.54 191.91,543.04 194.20,540.70 196.71,538.58 199.41,536.64 202.20,534.81 205.00,533.00 208.05,531.04 211.32,529.02 214.26,527.24 216.30,526.00 217.04,534.17 218.11,546.10 219.27,558.15 220.30,566.70 221.13,570.72 221.88,572.16 222.61,571.88 223.40,570.70 224.27,568.20 225.18,564.14 226.10,559.68 227.00,556.00 227.91,553.02 228.83,550.24 229.68,548.20 230.40,547.40 230.91,548.36 231.28,550.69 231.61,553.52 232.00,556.00 232.40,558.47 232.78,561.19 233.30,563.21 234.10,563.60 235.30,561.59 236.79,557.86 238.41,553.59 240.00,550.00 241.42,547.36 242.79,545.04 244.34,542.88 246.30,540.70 248.83,538.44 251.78,536.19 254.91,534.02 258.00,532.00 261.32,530.03 264.88,528.11 268.08,526.46 270.30,525.30" fill="none" stroke="#1ca9ee" stroke-width="2.0" stroke-linejoin="round" stroke-linecap="round"/>
<rect x="113.40" y="523.10" width="25.60" height="10.30" fill="#1a86aa" stroke="none" stroke-width="1"/>
<line x1="113.40" y1="528.25" x2="139.00" y2="528.25" stroke="#2a6070" stroke-width="0.9"/>
<text x="140.60" y="530.50" font-size="8.8" font-weight="bold" fill="#000" text-anchor="start" font-family="Liberation Sans" textLength="32.80" lengthAdjust="spacingAndGlyphs">Original</text>
<rect x="138.40" y="549.90" width="25.20" height="9.80" fill="#1a86aa" stroke="none" stroke-width="1"/>
<line x1="138.40" y1="554.80" x2="163.60" y2="554.80" stroke="#2a6070" stroke-width="0.9"/>
<rect x="126.20" y="563.60" width="25.70" height="10.20" fill="#1a86aa" stroke="none" stroke-width="1"/>
<line x1="126.20" y1="568.70" x2="151.90" y2="568.70" stroke="#2a6070" stroke-width="0.9"/>
<line x1="131.40" y1="558.60" x2="134.80" y2="558.60" stroke="#ee2a2a" stroke-width="0.9"/>
<polygon points="136.80,558.60 134.20,560.03 134.20,557.17" fill="#ee2a2a"/>
<polygon points="131.40,558.60 134.00,557.17 134.00,560.03" fill="#ee2a2a"/>
<line x1="119.30" y1="570.90" x2="122.80" y2="570.90" stroke="#ee2a2a" stroke-width="0.9"/>
<polygon points="124.80,570.90 122.20,572.33 122.20,569.47" fill="#ee2a2a"/>
<polygon points="119.30,570.90 121.90,569.47 121.90,572.33" fill="#ee2a2a"/>
<rect x="303.30" y="522.00" width="175.10" height="54.10" fill="none" stroke="#1a1a1a" stroke-width="1.3"/>
<line x1="303.30" y1="522.70" x2="305.50" y2="522.70" stroke="#1a1a1a" stroke-width="0.8"/>
<line x1="303.30" y1="539.10" x2="305.50" y2="539.10" stroke="#1a1a1a" stroke-width="0.8"/>
<line x1="303.30" y1="556.00" x2="305.50" y2="556.00" stroke="#1a1a1a" stroke-width="0.8"/>
<line x1="303.30" y1="571.30" x2="305.50" y2="571.30" stroke="#1a1a1a" stroke-width="0.8"/>
<text x="284.30" y="525.70" font-size="8.6" font-weight="bold" fill="#111" stroke="#111" stroke-width="0.15" text-anchor="start" font-family="Liberation Sans" textLength="16.70" lengthAdjust="spacingAndGlyphs">0.03</text>
<text x="284.30" y="542.10" font-size="8.6" font-weight="bold" fill="#111" stroke="#111" stroke-width="0.15" text-anchor="start" font-family="Liberation Sans" textLength="16.70" lengthAdjust="spacingAndGlyphs">0.02</text>
<text x="284.30" y="559.00" font-size="8.6" font-weight="bold" fill="#111" stroke="#111" stroke-width="0.15" text-anchor="start" font-family="Liberation Sans" textLength="16.70" lengthAdjust="spacingAndGlyphs">0.01</text>
<text x="284.30" y="574.30" font-size="8.6" font-weight="bold" fill="#111" stroke="#111" stroke-width="0.15" text-anchor="start" font-family="Liberation Sans" textLength="16.70" lengthAdjust="spacingAndGlyphs">0.00</text>
<text transform="translate(281.70,549.40) rotate(-90)" x="0" y="0" font-size="9" font-weight="bold" fill="#000" stroke="#000" stroke-width="0.12" text-anchor="middle" font-family="Liberation Sans" textLength="50.40" lengthAdjust="spacingAndGlyphs">Current (μA)</text>
<polyline points="311.40,570.90 311.80,570.81 312.38,570.73 313.02,570.40 313.60,569.60 314.09,568.26 314.56,566.51 315.02,564.40 315.50,562.00 316.01,559.24 316.54,556.11 317.07,552.78 317.60,549.40 318.13,545.35 318.67,540.78 319.20,536.96 319.70,535.20 320.16,536.31 320.59,539.44 321.03,543.41 321.50,547.00 321.97,550.18 322.44,553.48 322.99,556.62 323.70,559.30 324.70,561.85 325.90,564.30 327.10,565.87 328.10,565.80 328.80,562.77 329.31,557.57 329.77,552.56 330.30,550.10 330.91,551.44 331.54,555.13 332.21,559.42 332.90,562.60 333.63,564.24 334.40,565.24 335.19,565.90 336.00,566.50 336.78,567.03 337.54,567.37 338.39,567.65 339.40,568.00 340.65,568.48 342.07,569.01 343.56,569.54 345.00,570.00 346.31,570.42 347.57,570.83 348.90,571.14 350.40,571.30 352.12,571.25 353.99,571.04 355.96,570.76 358.00,570.50 360.27,570.60 362.74,570.91 365.04,570.79 366.80,569.60 367.78,567.02 368.22,563.44 368.50,559.29 369.00,555.00 369.86,549.81 370.88,543.79 371.87,538.57 372.70,535.80 373.26,536.44 373.67,539.43 374.04,543.41 374.50,547.00 375.06,550.12 375.67,553.40 376.34,556.56 377.10,559.30 378.01,562.08 379.04,564.88 380.08,566.68 381.00,566.50 381.76,562.75 382.42,556.41 383.05,550.28 383.70,547.20 384.38,548.64 385.05,552.86 385.75,557.83 386.50,561.50 387.31,563.36 388.16,564.48 389.06,565.23 390.00,566.00 390.85,566.85 391.64,567.58 392.67,568.20 394.20,568.70 396.45,569.05 399.24,569.26 402.20,569.39 405.00,569.50 407.68,569.60 410.38,569.66 412.89,569.66 415.00,569.60 416.60,569.75 417.83,570.01 418.82,569.85 419.70,568.70 420.40,566.40 420.87,563.24 421.34,559.39 422.00,555.00 423.00,549.04 424.19,541.77 425.36,535.35 426.30,531.90 426.88,532.58 427.25,536.04 427.57,540.71 428.00,545.00 428.61,548.90 429.29,553.11 430.01,557.12 430.70,560.40 431.34,563.29 431.95,565.91 432.59,567.40 433.30,566.90 434.13,562.77 435.05,555.94 435.97,549.39 436.80,546.10 437.49,547.65 438.09,552.19 438.70,557.53 439.40,561.50 440.19,563.54 441.04,564.80 441.96,565.66 443.00,566.50 444.03,567.36 445.09,568.07 446.40,568.64 448.20,569.10 450.65,569.43 453.59,569.62 456.78,569.73 460.00,569.80 463.55,569.81 467.44,569.74 470.95,569.66 473.40,569.60" fill="none" stroke="#f57aa6" stroke-width="1.9" stroke-linejoin="round" stroke-linecap="round"/>
<rect x="507.30" y="522.20" width="175.10" height="53.90" fill="none" stroke="#1a1a1a" stroke-width="1.3"/>
<line x1="507.30" y1="522.70" x2="509.50" y2="522.70" stroke="#1a1a1a" stroke-width="0.8"/>
<line x1="507.30" y1="535.00" x2="509.50" y2="535.00" stroke="#1a1a1a" stroke-width="0.8"/>
<line x1="507.30" y1="547.00" x2="509.50" y2="547.00" stroke="#1a1a1a" stroke-width="0.8"/>
<line x1="507.30" y1="559.20" x2="509.50" y2="559.20" stroke="#1a1a1a" stroke-width="0.8"/>
<line x1="507.30" y1="570.60" x2="509.50" y2="570.60" stroke="#1a1a1a" stroke-width="0.8"/>
<text x="489.90" y="525.70" font-size="8.6" font-weight="bold" fill="#111" stroke="#111" stroke-width="0.15" text-anchor="start" font-family="Liberation Sans" textLength="17.10" lengthAdjust="spacingAndGlyphs">0.16</text>
<text x="489.90" y="538.00" font-size="8.6" font-weight="bold" fill="#111" stroke="#111" stroke-width="0.15" text-anchor="start" font-family="Liberation Sans" textLength="17.10" lengthAdjust="spacingAndGlyphs">0.12</text>
<text x="489.90" y="550.00" font-size="8.6" font-weight="bold" fill="#111" stroke="#111" stroke-width="0.15" text-anchor="start" font-family="Liberation Sans" textLength="17.10" lengthAdjust="spacingAndGlyphs">0.08</text>
<text x="489.90" y="562.20" font-size="8.6" font-weight="bold" fill="#111" stroke="#111" stroke-width="0.15" text-anchor="start" font-family="Liberation Sans" textLength="17.10" lengthAdjust="spacingAndGlyphs">0.04</text>
<text x="489.90" y="573.60" font-size="8.6" font-weight="bold" fill="#111" stroke="#111" stroke-width="0.15" text-anchor="start" font-family="Liberation Sans" textLength="17.10" lengthAdjust="spacingAndGlyphs">0.00</text>
<text transform="translate(488.20,545.80) rotate(-90)" x="0" y="0" font-size="9" font-weight="bold" fill="#000" stroke="#000" stroke-width="0.12" text-anchor="middle" font-family="Liberation Sans" textLength="80.40" lengthAdjust="spacingAndGlyphs">Actuation force (N)</text>
<polyline points="518.20,569.80 520.00,569.80 520.28,565.37 520.67,558.94 521.12,552.16 521.54,546.64 521.93,542.75 522.32,539.64 522.71,537.14 523.08,535.06 523.46,533.46 523.84,532.41 524.17,531.71 524.40,531.20 528.10,531.20 534.70,561.50 534.86,558.35 535.10,553.79 535.36,548.98 535.61,545.06 535.84,542.30 536.07,540.09 536.30,538.32 536.52,536.84 536.74,535.71 536.97,534.96 537.16,534.46 537.30,534.10 538.38,534.10 538.38,540.26 539.46,540.26 539.46,545.84 540.55,545.84 540.55,550.82 541.63,550.82 541.63,555.22 542.71,555.22 542.71,559.04 543.79,559.04 543.79,562.27 544.87,562.27 544.87,564.91 545.95,564.91 545.95,566.96 547.04,566.96 547.04,568.43 548.12,568.43 548.12,569.31 549.20,569.31 549.20,569.60 572.70,569.60 572.70,569.80 573.40,569.80 573.60,565.37 573.89,558.94 574.21,552.16 574.52,546.64 574.80,542.75 575.09,539.64 575.37,537.14 575.64,535.06 575.91,533.46 576.19,532.41 576.43,531.71 576.60,531.20 580.50,531.20 587.60,558.20 587.73,555.43 587.92,551.42 588.13,547.19 588.34,543.74 588.52,541.31 588.71,539.37 588.89,537.81 589.07,536.51 589.25,535.51 589.43,534.85 589.59,534.42 589.70,534.10 591.00,534.10 591.00,540.26 592.30,540.26 592.30,545.84 593.60,545.84 593.60,550.82 594.90,550.82 594.90,555.22 596.20,555.22 596.20,559.04 597.50,559.04 597.50,562.27 598.80,562.27 598.80,564.91 600.10,564.91 600.10,566.96 601.40,566.96 601.40,568.43 602.70,568.43 602.70,569.31 604.00,569.31 604.00,569.60 625.90,569.60 625.90,569.80 626.50,569.80 626.67,565.37 626.91,558.94 627.19,552.16 627.45,546.64 627.68,542.75 627.93,539.64 628.16,537.14 628.39,535.06 628.62,533.46 628.85,532.41 629.06,531.71 629.20,531.20 634.00,531.20 641.20,561.50 641.36,558.35 641.60,553.79 641.86,548.98 642.11,545.06 642.34,542.30 642.57,540.09 642.80,538.32 643.02,536.84 643.24,535.71 643.47,534.96 643.66,534.46 643.80,534.10 645.02,534.10 645.02,540.26 646.24,540.26 646.24,545.84 647.45,545.84 647.45,550.82 648.67,550.82 648.67,555.22 649.89,555.22 649.89,559.04 651.11,559.04 651.11,562.27 652.33,562.27 652.33,564.91 653.55,564.91 653.55,566.96 654.76,566.96 654.76,568.43 655.98,568.43 655.98,569.31 657.20,569.31 657.20,569.60 678.40,569.60" fill="none" stroke="#76c043" stroke-width="1.8" stroke-linejoin="round" stroke-linecap="round" stroke-linejoin="miter" stroke-linecap="butt"/>
<text x="1.10" y="615.00" font-size="17" font-weight="bold" fill="#000" text-anchor="start" font-family="Liberation Serif" textLength="21.90" lengthAdjust="spacingAndGlyphs">(iv)</text>
<polyline points="12.70,655.00 28.00,655.00 28.00,602.70 70.50,602.70 70.50,655.00 85.80,655.00" fill="none" stroke="#000" stroke-width="1.7" stroke-linejoin="round" stroke-linecap="round" stroke-dasharray="1.2,3.1" stroke-linejoin="miter" stroke-linecap="butt"/>
<polyline points="12.70,656.80 29.60,656.80 29.60,605.30 42.70,605.30 42.70,618.90 55.80,618.90 55.80,605.30 69.00,605.30 69.00,656.80 85.80,656.80" fill="none" stroke="#f7941d" stroke-width="1.5" stroke-linejoin="round" stroke-linecap="round" stroke-linejoin="miter" stroke-linecap="butt"/>
<rect x="97.90" y="600.00" width="175.40" height="55.30" fill="none" stroke="#1a1a1a" stroke-width="1.3"/>
<line x1="97.90" y1="604.90" x2="100.10" y2="604.90" stroke="#1a1a1a" stroke-width="0.8"/>
<line x1="97.90" y1="617.40" x2="100.10" y2="617.40" stroke="#1a1a1a" stroke-width="0.8"/>
<line x1="97.90" y1="629.40" x2="100.10" y2="629.40" stroke="#1a1a1a" stroke-width="0.8"/>
<line x1="97.90" y1="641.50" x2="100.10" y2="641.50" stroke="#1a1a1a" stroke-width="0.8"/>
<line x1="97.90" y1="653.50" x2="100.10" y2="653.50" stroke="#1a1a1a" stroke-width="0.8"/>
<text x="87.10" y="607.80" font-size="8.2" font-weight="bold" fill="#111" stroke="#111" stroke-width="0.15" text-anchor="start" font-family="Liberation Sans" textLength="9.20" lengthAdjust="spacingAndGlyphs">32</text>
<text x="87.10" y="620.30" font-size="8.2" font-weight="bold" fill="#111" stroke="#111" stroke-width="0.15" text-anchor="start" font-family="Liberation Sans" textLength="9.20" lengthAdjust="spacingAndGlyphs">28</text>
<text x="87.10" y="632.30" font-size="8.2" font-weight="bold" fill="#111" stroke="#111" stroke-width="0.15" text-anchor="start" font-family="Liberation Sans" textLength="9.20" lengthAdjust="spacingAndGlyphs">24</text>
<text x="87.10" y="644.40" font-size="8.2" font-weight="bold" fill="#111" stroke="#111" stroke-width="0.15" text-anchor="start" font-family="Liberation Sans" textLength="9.20" lengthAdjust="spacingAndGlyphs">20</text>
<text x="87.10" y="656.40" font-size="8.2" font-weight="bold" fill="#111" stroke="#111" stroke-width="0.15" text-anchor="start" font-family="Liberation Sans" textLength="9.20" lengthAdjust="spacingAndGlyphs">16</text>
<text transform="translate(82.30,616.80) rotate(-90)" x="0" y="0" font-size="9" font-weight="bold" fill="#000" stroke="#000" stroke-width="0.12" text-anchor="middle" font-family="Liberation Sans" textLength="28.80" lengthAdjust="spacingAndGlyphs">L (mm)</text>
<polyline points="111.10,612.00 111.40,615.29 111.82,620.01 112.36,625.23 113.00,630.00 113.81,634.70 114.77,639.64 115.74,643.70 116.60,645.80 117.28,645.08 117.86,642.31 118.41,638.84 119.00,636.00 119.66,633.84 120.36,631.75 121.03,630.08 121.60,629.20 122.03,629.41 122.36,630.44 122.66,631.81 123.00,633.00 123.37,634.18 123.74,635.51 124.14,636.51 124.60,636.70 125.14,635.65 125.74,633.73 126.37,631.61 127.00,630.00 127.64,628.82 128.30,627.79 128.96,627.29 129.60,627.70 130.20,629.39 130.79,632.08 131.38,635.14 132.00,638.00 132.62,641.13 133.25,644.64 133.95,647.35 134.80,648.10 135.84,645.97 137.02,641.78 138.29,636.97 139.60,633.00 140.94,630.15 142.34,627.69 143.79,625.51 145.30,623.50 146.85,621.68 148.45,620.10 150.12,618.67 151.90,617.30 153.91,615.95 156.10,614.67 158.21,613.54 160.00,612.60 161.42,611.90 162.61,611.41 163.54,611.06 164.20,610.80 165.09,618.15 166.38,628.96 167.80,639.29 169.10,645.20 170.25,644.30 171.36,639.13 172.42,633.17 173.40,629.90 174.22,630.90 174.91,634.11 175.63,637.48 176.50,639.00 177.71,637.65 179.14,634.67 180.48,631.40 181.40,629.20 182.24,633.19 183.42,639.10 184.90,644.44 186.60,646.70 188.69,644.41 191.14,639.17 193.62,633.10 195.80,628.30 197.57,625.29 199.10,622.97 200.53,620.99 202.00,619.00 203.44,616.84 204.81,614.71 206.28,612.85 208.00,611.50 210.29,610.83 212.97,610.68 215.47,610.77 217.20,610.80 218.14,618.16 219.49,629.00 221.00,639.34 222.40,645.20 223.69,644.14 224.98,638.74 226.21,632.57 227.30,629.20 228.17,630.34 228.87,633.83 229.56,637.45 230.40,639.00 231.55,637.33 232.89,633.81 234.14,629.99 235.00,627.40 235.98,631.92 237.36,638.61 239.02,644.74 240.80,647.60 242.70,645.75 244.79,640.88 247.04,634.94 249.40,629.90 251.94,625.89 254.65,621.99 257.41,618.60 260.10,616.10 262.92,614.80 265.87,614.44 268.48,614.50 270.30,614.50" fill="none" stroke="#1ca9ee" stroke-width="2.0" stroke-linejoin="round" stroke-linecap="round"/>
<rect x="100.90" y="603.70" width="22.80" height="8.40" fill="#1a86aa" stroke="none" stroke-width="1"/>
<line x1="100.90" y1="607.90" x2="123.70" y2="607.90" stroke="#2a6070" stroke-width="0.9"/>
<text x="126.80" y="611.50" font-size="8.8" font-weight="bold" fill="#000" text-anchor="start" font-family="Liberation Sans" textLength="33.10" lengthAdjust="spacingAndGlyphs">Original</text>
<rect x="115.90" y="617.30" width="23.00" height="8.50" fill="#1a86aa" stroke="none" stroke-width="1"/>
<line x1="115.90" y1="621.55" x2="138.90" y2="621.55" stroke="#2a6070" stroke-width="0.9"/>
<rect x="99.30" y="629.90" width="8.50" height="23.00" fill="#1a86aa" stroke="none" stroke-width="1"/>
<line x1="103.55" y1="629.90" x2="103.55" y2="652.90" stroke="#2a5a6a" stroke-width="0.9"/>
<rect x="146.00" y="633.40" width="8.00" height="21.90" fill="#1a86aa" stroke="none" stroke-width="1"/>
<line x1="150.00" y1="633.40" x2="150.00" y2="655.30" stroke="#2a5a6a" stroke-width="0.9"/>
<line x1="110.40" y1="648.40" x2="115.10" y2="648.40" stroke="#ee2a2a" stroke-width="0.9"/>
<polygon points="108.40,648.40 111.00,646.97 111.00,649.83" fill="#ee2a2a"/>
<line x1="136.90" y1="650.30" x2="141.90" y2="650.30" stroke="#ee2a2a" stroke-width="0.9"/>
<polygon points="143.90,650.30 141.30,651.73 141.30,648.87" fill="#ee2a2a"/>
<line x1="124.90" y1="627.30" x2="124.90" y2="633.30" stroke="#ee2a2a" stroke-width="0.9"/>
<polygon points="124.90,635.30 123.47,632.70 126.33,632.70" fill="#ee2a2a"/>
<rect x="302.70" y="599.90" width="176.10" height="55.10" fill="none" stroke="#1a1a1a" stroke-width="1.3"/>
<line x1="302.70" y1="601.00" x2="304.90" y2="601.00" stroke="#1a1a1a" stroke-width="0.8"/>
<line x1="302.70" y1="616.90" x2="304.90" y2="616.90" stroke="#1a1a1a" stroke-width="0.8"/>
<line x1="302.70" y1="633.80" x2="304.90" y2="633.80" stroke="#1a1a1a" stroke-width="0.8"/>
<line x1="302.70" y1="649.10" x2="304.90" y2="649.10" stroke="#1a1a1a" stroke-width="0.8"/>
<text x="284.50" y="604.00" font-size="8.6" font-weight="bold" fill="#111" stroke="#111" stroke-width="0.15" text-anchor="start" font-family="Liberation Sans" textLength="16.50" lengthAdjust="spacingAndGlyphs">0.03</text>
<text x="284.50" y="619.90" font-size="8.6" font-weight="bold" fill="#111" stroke="#111" stroke-width="0.15" text-anchor="start" font-family="Liberation Sans" textLength="16.50" lengthAdjust="spacingAndGlyphs">0.02</text>
<text x="284.50" y="636.80" font-size="8.6" font-weight="bold" fill="#111" stroke="#111" stroke-width="0.15" text-anchor="start" font-family="Liberation Sans" textLength="16.50" lengthAdjust="spacingAndGlyphs">0.01</text>
<text x="284.50" y="652.10" font-size="8.6" font-weight="bold" fill="#111" stroke="#111" stroke-width="0.15" text-anchor="start" font-family="Liberation Sans" textLength="16.50" lengthAdjust="spacingAndGlyphs">0.00</text>
<text transform="translate(281.70,628.30) rotate(-90)" x="0" y="0" font-size="9" font-weight="bold" fill="#000" stroke="#000" stroke-width="0.12" text-anchor="middle" font-family="Liberation Sans" textLength="50.40" lengthAdjust="spacingAndGlyphs">Current (μA)</text>
<polyline points="314.30,647.40 314.93,647.60 315.83,647.98 316.80,647.84 317.60,646.50 318.16,643.61 318.61,639.60 319.02,634.91 319.50,630.00 320.08,623.93 320.72,616.81 321.34,610.66 321.90,607.50 322.37,608.59 322.78,612.61 323.15,617.70 323.50,622.00 323.79,625.24 324.02,628.33 324.27,631.20 324.60,633.80 325.04,636.63 325.54,639.56 326.10,641.53 326.70,641.50 327.36,637.86 328.07,631.60 328.83,625.62 329.60,622.80 330.41,624.76 331.27,629.67 332.11,635.28 332.90,639.30 333.60,641.54 334.25,643.08 334.87,643.55 335.50,642.60 336.14,639.67 336.78,635.10 337.41,629.88 338.00,625.00 338.56,619.87 339.09,614.24 339.60,609.62 340.10,607.50 340.59,608.94 341.07,612.92 341.54,617.81 342.00,622.00 342.40,625.25 342.74,628.37 343.17,631.25 343.80,633.80 344.61,635.99 345.56,637.86 346.73,639.46 348.20,640.80 350.18,641.82 352.56,642.52 354.96,643.06 357.00,643.60 358.52,644.12 359.75,644.57 360.85,645.00 362.00,645.50 363.26,646.45 364.54,647.68 365.75,648.45 366.80,648.00 367.60,646.08 368.23,643.10 368.82,639.32 369.50,635.00 370.34,628.91 371.26,621.34 372.17,614.82 373.00,611.90 373.71,614.35 374.34,620.44 374.96,627.47 375.60,632.70 376.28,635.92 376.97,638.40 377.67,639.68 378.40,639.30 379.16,635.80 379.95,629.88 380.74,624.27 381.50,621.70 382.22,623.76 382.91,628.71 383.60,634.28 384.30,638.20 385.04,640.17 385.81,641.29 386.55,641.42 387.20,640.40 387.72,637.81 388.14,633.86 388.54,629.33 389.00,625.00 389.55,620.27 390.16,615.00 390.76,610.63 391.30,608.60 391.77,609.92 392.19,613.61 392.60,618.14 393.00,622.00 393.30,624.83 393.52,627.44 393.88,630.00 394.60,632.70 395.76,635.89 397.23,639.38 398.93,642.53 400.80,644.70 402.99,645.49 405.47,645.31 407.93,644.77 410.00,644.50 411.55,644.66 412.76,644.91 413.85,645.14 415.00,645.20 416.30,645.00 417.62,644.62 418.89,644.24 420.00,644.00 420.90,644.36 421.66,645.09 422.33,645.36 423.00,644.30 423.66,641.41 424.29,637.24 424.90,632.53 425.50,628.00 426.08,622.77 426.62,616.81 427.19,612.14 427.80,610.80 428.49,614.58 429.23,621.98 429.98,630.09 430.70,636.00 431.37,639.28 432.01,641.36 432.64,642.13 433.30,641.50 433.97,638.20 434.66,632.70 435.36,627.48 436.10,625.00 436.91,626.68 437.76,630.94 438.61,635.81 439.40,639.30 440.10,641.28 440.75,642.66 441.37,643.07 442.00,642.10 442.64,639.18 443.28,634.68 443.91,629.61 444.50,625.00 445.06,620.33 445.59,615.32 446.10,611.33 446.60,609.70 447.10,611.50 447.59,615.78 448.06,620.84 448.50,625.00 448.81,627.93 449.02,630.49 449.32,632.78 449.90,634.90 450.73,636.90 451.74,638.72 453.03,640.29 454.70,641.50 456.91,642.25 459.56,642.62 462.36,642.81 465.00,643.00 467.63,643.23 470.34,643.39 472.73,643.51 474.40,643.60" fill="none" stroke="#f57aa6" stroke-width="1.9" stroke-linejoin="round" stroke-linecap="round"/>
<rect x="507.30" y="599.90" width="176.60" height="55.80" fill="none" stroke="#1a1a1a" stroke-width="1.3"/>
<line x1="507.30" y1="599.90" x2="509.50" y2="599.90" stroke="#1a1a1a" stroke-width="0.8"/>
<line x1="507.30" y1="611.90" x2="509.50" y2="611.90" stroke="#1a1a1a" stroke-width="0.8"/>
<line x1="507.30" y1="624.40" x2="509.50" y2="624.40" stroke="#1a1a1a" stroke-width="0.8"/>
<line x1="507.30" y1="636.40" x2="509.50" y2="636.40" stroke="#1a1a1a" stroke-width="0.8"/>
<line x1="507.30" y1="648.70" x2="509.50" y2="648.70" stroke="#1a1a1a" stroke-width="0.8"/>
<text x="489.90" y="602.90" font-size="8.6" font-weight="bold" fill="#111" stroke="#111" stroke-width="0.15" text-anchor="start" font-family="Liberation Sans" textLength="17.10" lengthAdjust="spacingAndGlyphs">0.16</text>
<text x="489.90" y="614.90" font-size="8.6" font-weight="bold" fill="#111" stroke="#111" stroke-width="0.15" text-anchor="start" font-family="Liberation Sans" textLength="17.10" lengthAdjust="spacingAndGlyphs">0.12</text>
<text x="489.90" y="627.40" font-size="8.6" font-weight="bold" fill="#111" stroke="#111" stroke-width="0.15" text-anchor="start" font-family="Liberation Sans" textLength="17.10" lengthAdjust="spacingAndGlyphs">0.08</text>
<text x="489.90" y="639.40" font-size="8.6" font-weight="bold" fill="#111" stroke="#111" stroke-width="0.15" text-anchor="start" font-family="Liberation Sans" textLength="17.10" lengthAdjust="spacingAndGlyphs">0.04</text>
<text x="489.90" y="651.70" font-size="8.6" font-weight="bold" fill="#111" stroke="#111" stroke-width="0.15" text-anchor="start" font-family="Liberation Sans" textLength="17.10" lengthAdjust="spacingAndGlyphs">0.00</text>
<text transform="translate(488.20,628.25) rotate(-90)" x="0" y="0" font-size="9" font-weight="bold" fill="#000" stroke="#000" stroke-width="0.12" text-anchor="middle" font-family="Liberation Sans" textLength="79.50" lengthAdjust="spacingAndGlyphs">Actuation force (N)</text>
<polyline points="522.20,650.20 522.34,645.68 522.54,639.12 522.76,632.19 522.97,626.56 523.17,622.59 523.36,619.42 523.56,616.86 523.74,614.74 523.93,613.11 524.12,612.03 524.28,611.32 524.40,610.80 528.10,610.80 533.60,637.50 533.80,634.69 534.09,630.61 534.41,626.30 534.72,622.80 535.00,620.33 535.29,618.36 535.57,616.77 535.84,615.45 536.11,614.44 536.39,613.77 536.63,613.33 536.80,613.00 541.60,639.00 541.81,635.76 542.11,631.07 542.44,626.11 542.76,622.08 543.05,619.24 543.34,616.97 543.63,615.14 543.91,613.62 544.19,612.45 544.48,611.68 544.73,611.17 544.90,610.80 548.10,610.80 549.37,610.80 549.37,618.29 550.64,618.29 550.64,624.98 551.91,624.98 551.91,630.89 553.18,630.89 553.18,636.02 554.45,636.02 554.45,640.35 555.72,640.35 555.72,643.90 556.99,643.90 556.99,646.65 558.26,646.65 558.26,648.62 559.53,648.62 559.53,649.81 560.80,649.81 560.80,650.20 576.20,650.20 576.20,650.20 576.34,645.68 576.54,639.12 576.76,632.19 576.97,626.56 577.17,622.59 577.36,619.42 577.56,616.86 577.74,614.74 577.93,613.11 578.12,612.03 578.28,611.32 578.40,610.80 581.40,610.80 585.80,637.50 585.95,634.69 586.17,630.61 586.41,626.30 586.64,622.80 586.85,620.33 587.07,618.36 587.28,616.77 587.48,615.45 587.69,614.44 587.89,613.77 588.07,613.33 588.20,613.00 593.00,639.00 593.21,635.76 593.51,631.07 593.84,626.11 594.15,622.08 594.45,619.24 594.74,616.97 595.03,615.14 595.31,613.62 595.59,612.45 595.88,611.68 596.13,611.17 596.30,610.80 599.20,610.80 600.22,610.80 600.22,618.29 601.24,618.29 601.24,624.98 602.26,624.98 602.26,630.89 603.28,630.89 603.28,636.02 604.30,636.02 604.30,640.35 605.32,640.35 605.32,643.90 606.34,643.90 606.34,646.65 607.36,646.65 607.36,648.62 608.38,648.62 608.38,649.81 609.40,649.81 609.40,650.20 630.20,650.20 630.20,650.20 630.38,645.68 630.64,639.12 630.94,632.19 631.22,626.56 631.47,622.59 631.73,619.42 631.99,616.86 632.23,614.74 632.48,613.11 632.73,612.03 632.95,611.32 633.10,610.80 636.20,610.80 641.20,637.50 641.34,634.69 641.54,630.61 641.76,626.30 641.97,622.80 642.17,620.33 642.36,618.36 642.56,616.77 642.74,615.45 642.93,614.44 643.12,613.77 643.28,613.33 643.40,613.00 648.40,639.00 648.56,635.76 648.80,631.07 649.06,626.11 649.31,622.08 649.54,619.24 649.77,616.97 650.00,615.14 650.22,613.62 650.44,612.45 650.67,611.68 650.86,611.17 651.00,610.80 654.30,610.80 655.29,610.80 655.29,618.29 656.28,618.29 656.28,624.98 657.27,624.98 657.27,630.89 658.26,630.89 658.26,636.02 659.25,636.02 659.25,640.35 660.24,640.35 660.24,643.90 661.23,643.90 661.23,646.65 662.22,646.65 662.22,648.62 663.21,648.62 663.21,649.81 664.20,649.81 664.20,650.20 680.60,650.20" fill="none" stroke="#76c043" stroke-width="1.8" stroke-linejoin="round" stroke-linecap="round" stroke-linejoin="miter" stroke-linecap="butt"/>
<text x="1.10" y="697.60" font-size="17" font-weight="bold" fill="#000" text-anchor="start" font-family="Liberation Serif" textLength="16.40" lengthAdjust="spacingAndGlyphs">(v)</text>
<polyline points="12.00,739.20 27.40,739.20 27.40,686.60 71.20,686.60 71.20,739.20 85.40,739.20" fill="none" stroke="#000" stroke-width="1.7" stroke-linejoin="round" stroke-linecap="round" stroke-dasharray="1.2,3.1" stroke-linejoin="miter" stroke-linecap="butt"/>
<polyline points="12.00,740.30 28.50,740.30 28.50,688.80 68.30,688.80 68.30,740.30 85.40,740.30" fill="none" stroke="#f7941d" stroke-width="1.5" stroke-linejoin="round" stroke-linecap="round" stroke-linejoin="miter" stroke-linecap="butt"/>
<line x1="47.70" y1="688.80" x2="47.70" y2="714.40" stroke="#f7941d" stroke-width="1.5"/>
<rect x="97.90" y="683.50" width="175.40" height="56.30" fill="none" stroke="#1a1a1a" stroke-width="1.3"/>
<line x1="97.90" y1="686.60" x2="100.10" y2="686.60" stroke="#1a1a1a" stroke-width="0.8"/>
<line x1="97.90" y1="698.20" x2="100.10" y2="698.20" stroke="#1a1a1a" stroke-width="0.8"/>
<line x1="97.90" y1="708.10" x2="100.10" y2="708.10" stroke="#1a1a1a" stroke-width="0.8"/>
<line x1="97.90" y1="718.40" x2="100.10" y2="718.40" stroke="#1a1a1a" stroke-width="0.8"/>
<line x1="97.90" y1="728.20" x2="100.10" y2="728.20" stroke="#1a1a1a" stroke-width="0.8"/>
<line x1="97.90" y1="738.50" x2="100.10" y2="738.50" stroke="#1a1a1a" stroke-width="0.8"/>
<text x="87.10" y="689.50" font-size="8.2" font-weight="bold" fill="#111" stroke="#111" stroke-width="0.15" text-anchor="start" font-family="Liberation Sans" textLength="9.20" lengthAdjust="spacingAndGlyphs">33</text>
<text x="87.10" y="701.10" font-size="8.2" font-weight="bold" fill="#111" stroke="#111" stroke-width="0.15" text-anchor="start" font-family="Liberation Sans" textLength="9.20" lengthAdjust="spacingAndGlyphs">30</text>
<text x="87.10" y="711.00" font-size="8.2" font-weight="bold" fill="#111" stroke="#111" stroke-width="0.15" text-anchor="start" font-family="Liberation Sans" textLength="9.20" lengthAdjust="spacingAndGlyphs">27</text>
<text x="87.10" y="721.30" font-size="8.2" font-weight="bold" fill="#111" stroke="#111" stroke-width="0.15" text-anchor="start" font-family="Liberation Sans" textLength="9.20" lengthAdjust="spacingAndGlyphs">24</text>
<text x="87.10" y="731.10" font-size="8.2" font-weight="bold" fill="#111" stroke="#111" stroke-width="0.15" text-anchor="start" font-family="Liberation Sans" textLength="9.20" lengthAdjust="spacingAndGlyphs">21</text>
<text x="87.10" y="741.40" font-size="8.2" font-weight="bold" fill="#111" stroke="#111" stroke-width="0.15" text-anchor="start" font-family="Liberation Sans" textLength="9.20" lengthAdjust="spacingAndGlyphs">18</text>
<text transform="translate(81.20,709.60) rotate(-90)" x="0" y="0" font-size="9" font-weight="bold" fill="#000" stroke="#000" stroke-width="0.12" text-anchor="middle" font-family="Liberation Sans" textLength="28.40" lengthAdjust="spacingAndGlyphs">L (mm)</text>
<polyline points="110.80,690.10 111.20,692.77 111.77,696.61 112.41,700.92 113.00,705.00 113.51,708.84 114.01,712.76 114.50,716.54 115.00,720.00 115.48,723.50 115.94,727.01 116.43,729.72 117.00,730.80 117.66,729.52 118.39,726.49 119.18,722.91 120.00,720.00 120.89,717.70 121.83,715.49 122.79,713.88 123.70,713.40 124.56,714.42 125.40,716.60 126.21,719.32 127.00,722.00 127.73,725.19 128.40,728.98 129.10,732.02 129.90,733.00 130.82,731.00 131.82,726.92 132.88,722.13 134.00,718.00 135.05,714.78 136.08,711.79 137.32,708.97 139.00,706.30 141.40,703.68 144.33,701.16 147.29,698.91 149.80,697.10 151.62,695.84 153.04,695.02 154.37,694.49 155.90,694.10 157.89,693.89 160.13,693.91 162.18,694.03 163.60,694.10 164.01,697.27 164.61,701.81 165.29,706.97 166.00,712.00 166.73,717.56 167.52,723.76 168.32,729.03 169.10,731.80 169.82,730.95 170.51,727.55 171.22,723.32 172.00,720.00 172.90,717.63 173.88,715.42 174.87,713.86 175.80,713.40 176.65,714.45 177.45,716.67 178.23,719.41 179.00,722.00 179.74,724.90 180.45,728.24 181.18,730.91 182.00,731.80 182.90,730.15 183.86,726.71 184.89,722.61 186.00,719.00 187.12,716.06 188.28,713.23 189.59,710.50 191.20,707.90 193.06,705.45 195.13,703.14 197.54,700.91 200.40,698.70 204.28,696.31 208.93,693.83 213.29,691.63 216.30,690.10 216.78,693.62 217.48,698.65 218.25,704.38 219.00,710.00 219.68,716.24 220.37,723.22 221.07,729.19 221.80,732.40 222.54,731.61 223.29,728.01 224.10,723.51 225.00,720.00 226.08,717.59 227.29,715.39 228.49,713.85 229.50,713.40 230.25,714.44 230.84,716.64 231.39,719.37 232.00,722.00 232.69,725.03 233.41,728.57 234.17,731.43 235.00,732.40 235.89,730.67 236.83,727.04 237.85,722.75 239.00,719.00 240.24,716.02 241.57,713.19 243.07,710.49 244.80,707.90 246.72,705.45 248.81,703.14 251.19,700.91 254.00,698.70 257.75,696.31 262.23,693.83 266.41,691.63 269.30,690.10" fill="none" stroke="#1ca9ee" stroke-width="2.0" stroke-linejoin="round" stroke-linecap="round"/>
<rect x="114.30" y="687.30" width="22.60" height="8.10" fill="#1a86aa" stroke="none" stroke-width="1"/>
<line x1="114.30" y1="691.35" x2="136.90" y2="691.35" stroke="#2a6070" stroke-width="0.9"/>
<text x="139.00" y="692.50" font-size="8.8" font-weight="bold" fill="#000" text-anchor="start" font-family="Liberation Sans" textLength="33.20" lengthAdjust="spacingAndGlyphs">Original</text>
<rect x="101.20" y="712.90" width="8.30" height="23.00" fill="#1a86aa" stroke="none" stroke-width="1"/>
<line x1="105.35" y1="712.90" x2="105.35" y2="735.90" stroke="#2a5a6a" stroke-width="0.9"/>
<rect x="141.70" y="712.90" width="8.10" height="23.00" fill="#1a86aa" stroke="none" stroke-width="1"/>
<line x1="145.75" y1="712.90" x2="145.75" y2="735.90" stroke="#2a5a6a" stroke-width="0.9"/>
<line x1="111.90" y1="732.60" x2="116.80" y2="732.60" stroke="#ee2a2a" stroke-width="0.9"/>
<polygon points="109.90,732.60 112.50,731.17 112.50,734.03" fill="#ee2a2a"/>
<line x1="132.50" y1="733.30" x2="137.00" y2="733.30" stroke="#ee2a2a" stroke-width="0.9"/>
<polygon points="139.00,733.30 136.40,734.73 136.40,731.87" fill="#ee2a2a"/>
<rect x="303.30" y="683.30" width="176.00" height="55.20" fill="none" stroke="#1a1a1a" stroke-width="1.3"/>
<line x1="303.30" y1="682.90" x2="305.50" y2="682.90" stroke="#1a1a1a" stroke-width="0.8"/>
<line x1="303.30" y1="700.40" x2="305.50" y2="700.40" stroke="#1a1a1a" stroke-width="0.8"/>
<line x1="303.30" y1="716.60" x2="305.50" y2="716.60" stroke="#1a1a1a" stroke-width="0.8"/>
<line x1="303.30" y1="733.30" x2="305.50" y2="733.30" stroke="#1a1a1a" stroke-width="0.8"/>
<text x="284.50" y="685.90" font-size="8.6" font-weight="bold" fill="#111" stroke="#111" stroke-width="0.15" text-anchor="start" font-family="Liberation Sans" textLength="16.50" lengthAdjust="spacingAndGlyphs">0.03</text>
<text x="284.50" y="703.40" font-size="8.6" font-weight="bold" fill="#111" stroke="#111" stroke-width="0.15" text-anchor="start" font-family="Liberation Sans" textLength="16.50" lengthAdjust="spacingAndGlyphs">0.02</text>
<text x="284.50" y="719.60" font-size="8.6" font-weight="bold" fill="#111" stroke="#111" stroke-width="0.15" text-anchor="start" font-family="Liberation Sans" textLength="16.50" lengthAdjust="spacingAndGlyphs">0.01</text>
<text x="284.50" y="736.30" font-size="8.6" font-weight="bold" fill="#111" stroke="#111" stroke-width="0.15" text-anchor="start" font-family="Liberation Sans" textLength="16.50" lengthAdjust="spacingAndGlyphs">0.00</text>
<text transform="translate(282.30,709.60) rotate(-90)" x="0" y="0" font-size="9" font-weight="bold" fill="#000" stroke="#000" stroke-width="0.12" text-anchor="middle" font-family="Liberation Sans" textLength="50.40" lengthAdjust="spacingAndGlyphs">Current (μA)</text>
<polyline points="313.20,733.70 313.68,733.82 314.38,734.06 315.14,733.85 315.80,732.60 316.32,729.91 316.79,726.17 317.23,721.99 317.70,718.00 318.19,713.65 318.69,708.84 319.19,704.86 319.70,703.00 320.21,704.12 320.73,707.38 321.26,711.44 321.80,715.00 322.35,718.04 322.92,721.15 323.50,723.93 324.10,726.00 324.72,727.46 325.37,728.46 326.03,728.63 326.70,727.60 327.38,724.91 328.08,720.87 328.79,716.30 329.50,712.00 330.24,707.49 331.01,702.56 331.74,698.47 332.40,696.50 332.95,697.50 333.41,700.63 333.85,704.57 334.30,708.00 334.73,710.78 335.13,713.54 335.59,716.13 336.20,718.40 337.04,720.28 338.05,721.87 339.08,723.24 340.00,724.50 340.58,725.59 340.97,726.48 341.54,727.31 342.70,728.20 344.62,729.25 347.07,730.36 349.81,731.40 352.60,732.20 355.67,732.97 359.04,733.71 362.19,733.96 364.60,733.30 365.93,731.58 366.53,729.04 366.88,725.81 367.50,722.00 368.56,716.64 369.77,709.99 370.95,704.05 371.90,700.80 372.53,701.36 372.96,704.47 373.30,708.55 373.70,712.00 374.14,714.61 374.56,717.16 375.02,719.53 375.60,721.60 376.33,723.75 377.18,725.89 378.06,727.27 378.90,727.10 379.68,724.81 380.44,720.93 381.21,716.36 382.00,712.00 382.86,707.29 383.76,702.03 384.63,697.60 385.40,695.40 386.03,696.32 386.57,699.45 387.08,703.45 387.60,707.00 388.13,709.98 388.64,713.01 389.18,715.89 389.80,718.40 390.52,720.44 391.32,722.14 392.16,723.62 393.00,725.00 393.71,726.24 394.36,727.31 395.17,728.30 396.40,729.30 398.27,730.43 400.60,731.61 403.00,732.64 405.10,733.30 406.68,733.49 407.99,733.34 409.31,732.99 410.90,732.60 413.04,732.44 415.52,732.36 417.89,731.84 419.70,730.40 420.73,727.65 421.24,723.94 421.56,719.86 422.00,716.00 422.60,711.79 423.21,707.17 423.84,703.44 424.50,701.90 425.21,703.51 425.96,707.37 426.72,712.02 427.50,716.00 428.29,719.60 429.09,723.38 429.90,726.24 430.70,727.10 431.48,725.15 432.26,721.14 433.03,716.34 433.80,712.00 434.59,707.70 435.38,703.02 436.14,699.23 436.80,697.60 437.33,699.04 437.77,702.67 438.17,707.12 438.60,711.00 438.98,714.14 439.32,717.21 439.77,720.10 440.50,722.70 441.50,725.02 442.69,727.10 444.16,728.91 446.00,730.40 448.41,731.55 451.29,732.38 454.25,732.95 456.90,733.30 459.17,733.36 461.24,733.14 463.17,732.80 465.00,732.50 466.83,732.24 468.61,731.95 470.13,731.68 471.20,731.50" fill="none" stroke="#f57aa6" stroke-width="1.9" stroke-linejoin="round" stroke-linecap="round"/>
<rect x="507.30" y="683.80" width="176.70" height="55.40" fill="none" stroke="#1a1a1a" stroke-width="1.3"/>
<line x1="507.30" y1="682.90" x2="509.50" y2="682.90" stroke="#1a1a1a" stroke-width="0.8"/>
<line x1="507.30" y1="695.40" x2="509.50" y2="695.40" stroke="#1a1a1a" stroke-width="0.8"/>
<line x1="507.30" y1="707.40" x2="509.50" y2="707.40" stroke="#1a1a1a" stroke-width="0.8"/>
<line x1="507.30" y1="719.50" x2="509.50" y2="719.50" stroke="#1a1a1a" stroke-width="0.8"/>
<line x1="507.30" y1="731.50" x2="509.50" y2="731.50" stroke="#1a1a1a" stroke-width="0.8"/>
<text x="489.90" y="685.90" font-size="8.6" font-weight="bold" fill="#111" stroke="#111" stroke-width="0.15" text-anchor="start" font-family="Liberation Sans" textLength="17.10" lengthAdjust="spacingAndGlyphs">0.16</text>
<text x="489.90" y="698.40" font-size="8.6" font-weight="bold" fill="#111" stroke="#111" stroke-width="0.15" text-anchor="start" font-family="Liberation Sans" textLength="17.10" lengthAdjust="spacingAndGlyphs">0.12</text>
<text x="489.90" y="710.40" font-size="8.6" font-weight="bold" fill="#111" stroke="#111" stroke-width="0.15" text-anchor="start" font-family="Liberation Sans" textLength="17.10" lengthAdjust="spacingAndGlyphs">0.08</text>
<text x="489.90" y="722.50" font-size="8.6" font-weight="bold" fill="#111" stroke="#111" stroke-width="0.15" text-anchor="start" font-family="Liberation Sans" textLength="17.10" lengthAdjust="spacingAndGlyphs">0.04</text>
<text x="489.90" y="734.50" font-size="8.6" font-weight="bold" fill="#111" stroke="#111" stroke-width="0.15" text-anchor="start" font-family="Liberation Sans" textLength="17.10" lengthAdjust="spacingAndGlyphs">0.00</text>
<text transform="translate(488.20,708.00) rotate(-90)" x="0" y="0" font-size="9" font-weight="bold" fill="#000" stroke="#000" stroke-width="0.12" text-anchor="middle" font-family="Liberation Sans" textLength="80.00" lengthAdjust="spacingAndGlyphs">Actuation force (N)</text>
<polyline points="521.50,732.60 523.00,732.60 523.28,728.02 523.67,721.38 524.12,714.36 524.54,708.66 524.93,704.64 525.32,701.43 525.71,698.84 526.08,696.69 526.46,695.04 526.84,693.95 527.17,693.23 527.40,692.70 530.30,692.70 535.80,720.60 536.00,717.40 536.29,712.75 536.61,707.85 536.92,703.86 537.20,701.05 537.49,698.80 537.77,696.99 538.04,695.49 538.31,694.33 538.59,693.57 538.83,693.07 539.00,692.70 542.30,692.70 543.63,692.70 543.63,699.62 544.95,699.62 544.95,705.89 546.28,705.89 546.28,711.50 547.61,711.50 547.61,716.44 548.94,716.44 548.94,720.73 550.26,720.73 550.26,724.36 551.59,724.36 551.59,727.32 552.92,727.32 552.92,729.63 554.25,729.63 554.25,731.28 555.57,731.28 555.57,732.27 556.90,732.27 556.90,732.60 574.90,732.60 574.90,732.60 575.20,732.60 575.36,728.02 575.58,721.38 575.84,714.36 576.08,708.66 576.30,704.64 576.52,701.43 576.74,698.84 576.95,696.69 577.16,695.04 577.38,693.95 577.57,693.23 577.70,692.70 582.10,692.70 589.30,723.80 589.46,720.23 589.70,715.05 589.96,709.59 590.21,705.14 590.44,702.01 590.67,699.50 590.90,697.49 591.12,695.81 591.34,694.52 591.57,693.67 591.76,693.11 591.90,692.70 596.30,692.70 597.69,692.70 597.69,699.62 599.08,699.62 599.08,705.89 600.47,705.89 600.47,711.50 601.86,711.50 601.86,716.44 603.25,716.44 603.25,720.73 604.65,720.73 604.65,724.36 606.04,724.36 606.04,727.32 607.43,727.32 607.43,729.63 608.82,729.63 608.82,731.28 610.21,731.28 610.21,732.27 611.60,732.27 611.60,732.60 628.10,732.60 628.10,732.60 628.40,732.60 628.56,728.02 628.78,721.38 629.04,714.36 629.27,708.66 629.50,704.64 629.72,701.43 629.94,698.84 630.15,696.69 630.36,695.04 630.58,693.95 630.77,693.23 630.90,692.70 634.60,692.70 641.20,720.60 641.41,717.40 641.71,712.75 642.04,707.85 642.36,703.86 642.65,701.05 642.94,698.80 643.23,696.99 643.51,695.49 643.79,694.33 644.08,693.57 644.33,693.07 644.50,692.70 647.80,692.70 649.09,692.70 649.09,699.62 650.38,699.62 650.38,705.89 651.67,705.89 651.67,711.50 652.96,711.50 652.96,716.44 654.25,716.44 654.25,720.73 655.55,720.73 655.55,724.36 656.84,724.36 656.84,727.32 658.13,727.32 658.13,729.63 659.42,729.63 659.42,731.28 660.71,731.28 660.71,732.27 662.00,732.27 662.00,732.60 680.60,732.60" fill="none" stroke="#76c043" stroke-width="1.8" stroke-linejoin="round" stroke-linecap="round" stroke-linejoin="miter" stroke-linecap="butt"/>
</svg>
</body></html>
